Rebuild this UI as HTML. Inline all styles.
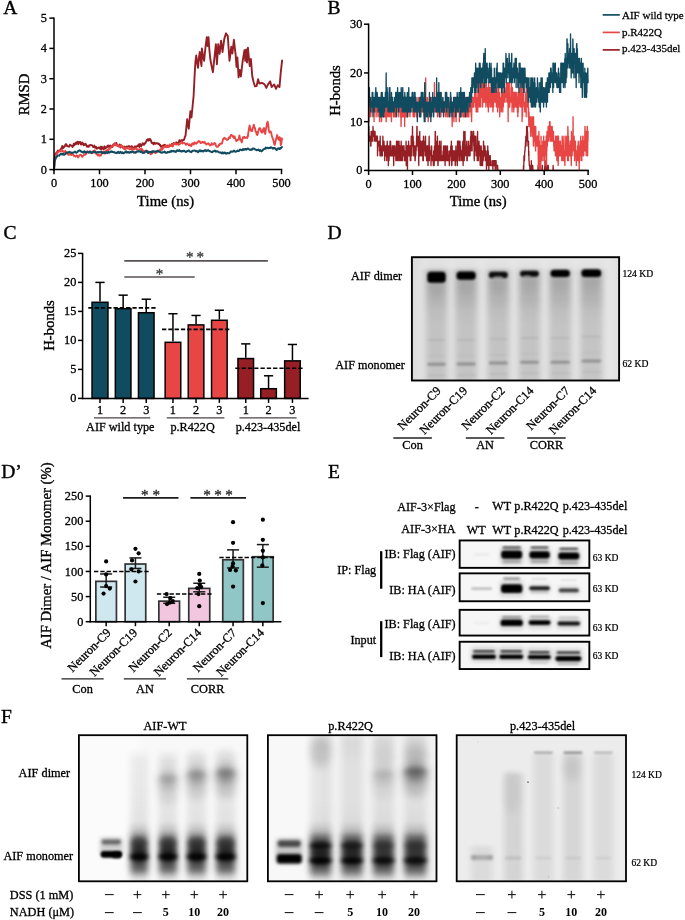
<!DOCTYPE html>
<html><head><meta charset="utf-8"><title>Figure</title>
<style>
html,body{margin:0;padding:0;background:#fff;}
body{width:685px;height:920px;overflow:hidden;font-family:"Liberation Serif",serif;}
svg{display:block;font-family:"Liberation Serif",serif;}
</style></head><body>
<svg width="685" height="920" viewBox="0 0 685 920">
<defs>
<filter id="b05" x="-20%" y="-50%" width="140%" height="200%"><feGaussianBlur stdDeviation="0.5"/></filter>
<filter id="b08" x="-20%" y="-50%" width="140%" height="200%"><feGaussianBlur stdDeviation="0.8"/></filter>
<filter id="b1" x="-30%" y="-80%" width="160%" height="260%"><feGaussianBlur stdDeviation="1.1"/></filter>
<filter id="b15" x="-30%" y="-80%" width="160%" height="260%"><feGaussianBlur stdDeviation="1.5"/></filter>
<filter id="b2" x="-40%" y="-100%" width="180%" height="300%"><feGaussianBlur stdDeviation="2"/></filter>
<filter id="b3" x="-50%" y="-100%" width="200%" height="300%"><feGaussianBlur stdDeviation="3"/></filter>
<filter id="b4" x="-60%" y="-100%" width="220%" height="300%"><feGaussianBlur stdDeviation="4"/></filter>
<filter id="b6" x="-80%" y="-100%" width="260%" height="300%"><feGaussianBlur stdDeviation="6"/></filter>
<filter id="bx2" x="-30%" y="-5%" width="160%" height="110%"><feGaussianBlur stdDeviation="3 1.2"/></filter>
<filter id="bx3" x="-40%" y="-10%" width="180%" height="120%"><feGaussianBlur stdDeviation="3 2"/></filter>
<filter id="bx4" x="-50%" y="-15%" width="200%" height="130%"><feGaussianBlur stdDeviation="4 3"/></filter>
<linearGradient id="dlane" x1="0" y1="0" x2="0" y2="1">
<stop offset="0" stop-color="#000" stop-opacity="0"/>
<stop offset="0.08" stop-color="#000" stop-opacity="0.02"/>
<stop offset="0.12" stop-color="#000" stop-opacity="0.23"/>
<stop offset="0.34" stop-color="#000" stop-opacity="0.22"/>
<stop offset="0.44" stop-color="#000" stop-opacity="0.17"/>
<stop offset="0.55" stop-color="#000" stop-opacity="0.15"/>
<stop offset="1" stop-color="#000" stop-opacity="0.145"/>
</linearGradient>
<linearGradient id="dbg" x1="0" y1="0" x2="1" y2="0">
<stop offset="0" stop-color="#dadada"/>
<stop offset="0.06" stop-color="#e4e4e4"/>
<stop offset="0.94" stop-color="#e6e6e6"/>
<stop offset="1" stop-color="#e0e0e0"/>
</linearGradient>
<clipPath id="clipD"><rect x="411.4" y="256.8" width="208" height="123.6"/></clipPath>
<!--MOREDEFS-->
</defs>

<!-- Panel A -->
<text x="3.2" y="14.2" font-size="19.5" text-anchor="start" fill="#000" stroke="#000" stroke-width="0.37">A</text>
<polyline points="54,169.6 54.6,158 55.4,154 56.5,152.5 57.25,151.89 58,150.5 58.6,150.89 59.2,150.68 59.8,150.78 60.4,149.75 61,148.6 61.61,149.42 62.23,146.04 62.84,146.9 63.46,147.9 64.07,146.43 64.69,146.71 65.3,144.9 65.97,144.09 66.65,145.65 67.33,145.36 68,146.6 68.65,146.64 69.3,146.64 69.95,144.74 70.6,145.29 71.25,145.39 71.9,146 72.52,146.93 73.14,146.05 73.76,143.71 74.38,145.35 75,144 75.66,142.66 76.31,144 76.97,142.25 77.63,141.66 78.29,144.26 78.94,141.96 79.6,142.7 80.28,141.93 80.96,144.52 81.64,144.31 82.32,142.59 83,143.4 83.62,145.18 84.24,144.13 84.86,144.87 85.48,143.66 86.1,144.9 86.74,146.49 87.38,145.86 88.02,146.92 88.67,146.86 89.31,145.13 89.95,145.51 90.59,145.06 91.23,145.17 91.88,145.08 92.52,146.01 93.16,147.15 93.8,147 94.4,145.55 95,147.86 95.6,146.91 96.2,146.96 96.8,148.73 97.4,147.8 98,148 98.64,147.44 99.29,148 99.93,148.74 100.57,146.7 101.21,149.66 101.86,146.64 102.5,148.2 103.14,148.89 103.79,149.08 104.43,146.31 105.07,148.66 105.71,147.2 106.36,147.77 107,147.4 107.61,145.63 108.23,145.55 108.84,145.78 109.46,148.06 110.07,145.43 110.69,147.02 111.3,146 111.93,147.06 112.56,146.79 113.19,144.56 113.81,144.28 114.44,144.51 115.07,145 115.7,143.8 116.36,142.91 117.02,145.31 117.68,145.83 118.34,146.39 119,145.6 119.66,144.4 120.32,147.59 120.98,145.13 121.64,146.21 122.3,147 122.97,147.38 123.64,148.4 124.31,146.57 124.99,148.47 125.66,147.29 126.33,146.57 127,147.2 127.62,146.66 128.24,146.27 128.86,146 129.48,146.28 130.1,148.06 130.72,149.09 131.34,146.47 131.96,146.16 132.58,149.21 133.2,147.7 133.8,147.59 134.4,146.97 135,146.22 135.6,147.15 136.2,147.68 136.8,146.28 137.4,145.96 138,146 138.67,144.39 139.33,146.96 140,143.95 140.67,145.25 141.33,146.17 142,144.9 142.67,143.2 143.33,144.61 144,144.79 144.67,143.25 145.33,143.24 146,141.8 146.72,139.98 147.44,140.47 148.16,139 148.88,140.66 149.6,139 150.26,139.08 150.92,140.33 151.58,142.82 152.24,143.09 152.9,142.7 153.52,144.32 154.14,142.75 154.76,142.96 155.38,143.83 156,143.2 156.7,143.47 157.4,143.21 158.1,143.91 158.8,143.43 159.5,144.9 160.14,144.66 160.79,146.78 161.43,146.84 162.07,145.93 162.71,145.68 163.36,145.33 164,146 164.7,144.69 165.4,145.27 166.1,146.9 166.8,147.18 167.5,145.56 168.2,146 168.8,146.67 169.4,146.38 170,145.87 170.6,145.52 171.2,145.58 171.8,144.06 172.4,144.9 173,144 173.67,143.08 174.33,143.52 175,144.21 175.67,143.74 176.33,142.26 177,142.7 177.6,143.91 178.2,142.74 178.8,142.3 179.4,140.26 180,141.6 180.64,141.43 181.28,140.16 181.92,141.19 182.56,140.2 183.2,140 183.9,140.01 184.6,138 185.6,135.1 186.4,127 187.2,119.1 188,125 188.8,128.7 189.6,119 190.4,111.1 191.5,117.5 192.6,106 193.6,96 194.6,76 195.4,62 196.3,55.5 197.2,63 198,67.8 198.9,58 199.8,52 200.6,60 201.5,66 201.9,48.5 203,56 204.1,60.8 205.4,48 206.8,37.1 207.6,46 208.5,37.1 209.4,50 210.3,59 211.6,66 212.9,72.2 214.4,58 215.9,44.1 216.9,64.3 218.2,44.1 219.6,53.8 221.1,40.6 222.5,52 224.3,38.9 226,33.3 227.8,36.3 228.6,48 229.5,60.8 231.3,46.8 232.4,53.5 233.9,39.8 235.7,55.5 236.5,66.9 237.4,57.5 238.6,77.4 239.8,70 240.9,76.5 242.7,60.8 244.4,50.3 245.3,60.8 246.2,49.4 247,62.5 247.9,47.7 249.7,66 250.9,59 252.3,76.5 253.6,82 254.9,86.2 256.6,86 258.1,79.2 259.3,83.5 261.9,82.8 264.6,84.4 266.3,87.9 268.1,84.4 270.2,81.4 271.6,87 274.2,84.4 276,88.8 277.7,85.3 279.5,87 280.7,73 282.1,60.4" fill="none" stroke="#961f25" stroke-width="1.9" stroke-linejoin="round" stroke-linecap="round"/>
<polyline points="54,169.6 54.6,161.85 55.2,159.62 55.8,155.37 56.4,154.26 57,153.31 57.6,153.21 58.2,151.92 58.8,151.32 59.4,151.6 60,151 60.6,151.34 61.2,150.23 61.8,149.79 62.4,151.24 63,151.09 63.6,151.46 64.2,152.38 64.8,151.87 65.4,150.85 66,152.46 66.6,152.81 67.2,153.29 67.8,153.58 68.4,154.84 69,153.89 69.6,154.66 70.2,154.08 70.8,154.48 71.4,155.06 72,154.51 72.6,153.71 73.2,154.52 73.8,155.73 74.4,156.1 75,156.01 75.6,156.63 76.2,155.78 76.8,155.46 77.4,155.84 78,157.52 78.6,156.68 79.2,155.77 79.8,155.18 80.4,154.63 81,154.93 81.6,155.82 82.2,156.87 82.8,155.94 83.4,155.49 84,154.88 84.6,154.16 85.2,154.83 85.8,154.23 86.4,152.82 87,151.4 87.6,152.3 88.2,152.23 88.8,152.74 89.4,151.39 90,151.57 90.6,152.71 91.2,152.36 91.8,153.18 92.4,151.41 93,152.78 93.6,150.9 94.2,151.15 94.8,150.37 95.4,152.32 96,153.09 96.6,154.42 97.2,154.73 97.8,155.39 98.4,154.69 99,155.71 99.6,155.66 100.2,154.63 100.8,155.62 101.4,154.19 102,152.81 102.6,151.63 103.2,151.97 103.8,151.23 104.4,152.85 105,153.64 105.6,151.88 106.2,150.6 106.8,151.05 107.4,149.79 108,149.83 108.6,150.28 109.2,148.61 109.8,147.91 110.4,148.58 111,147.31 111.6,146 112.2,146.52 112.8,146.21 113.4,145.92 114,144.83 114.6,143.16 115.2,144.07 115.8,145.21 116.4,145.55 117,144.89 117.6,145.02 118.2,145.36 118.8,146.32 119.4,146.15 120,146 120.6,146.65 121.2,145.1 121.8,146.21 122.4,146.16 123,147 123.6,148.42 124.2,147.72 124.8,149.38 125.4,147.7 126,148.26 126.6,148.52 127.2,147.83 127.8,148.43 128.4,148.52 129,148.54 129.6,149.34 130.2,147.78 130.8,148.08 131.4,149.42 132,148.32 132.6,149.84 133.2,148.78 133.8,149.55 134.4,148.51 135,148.76 135.6,148.81 136.2,147.89 136.8,149.15 137.4,149.17 138,149.76 138.6,149.64 139.2,149.63 139.8,149.54 140.4,148.85 141,150.19 141.6,148.59 142.2,150.08 142.8,151.01 143.4,150.57 144,151.26 144.6,151.45 145.2,151.48 145.8,150.74 146.4,150.63 147,150.84 147.6,150.97 148.2,153.05 148.8,152.52 149.4,152.55 150,152.82 150.6,154.24 151.2,153.81 151.8,153.73 152.4,152.8 153,152.36 153.6,151.56 154.2,151.48 154.8,151.52 155.4,153.15 156,152.93 156.6,151.68 157.2,152 157.8,150.75 158.4,151.04 159,150.55 159.6,151.18 160.2,149.58 160.8,150.25 161.4,148.67 162,149.72 162.6,149.05 163.2,146.83 163.8,147.64 164.4,146.63 165,146.36 165.6,145.57 166.2,147.07 166.8,145.68 167.4,146.76 168,146.29 168.6,146.69 169.2,145.7 169.8,144.5 170.4,146.14 171,146.13 171.6,144.66 172.2,146.08 172.8,146.53 173.4,144.66 174,143.21 174.6,144.06 175.2,143.1 175.8,144.22 176.4,143.96 177,144.44 177.6,144.22 178.2,144.61 178.8,144.87 179.4,144.32 180,143.95 180.6,143.14 181.2,142.22 181.8,141.67 182.4,143.56 183,142.71 183.6,142.92 184.2,142.75 184.8,143.53 185.4,143.71 186,144.74 186.6,144.09 187.2,143.58 187.8,144.16 188.4,144.74 189,145.56 189.6,144.28 190.2,145.12 190.8,145.76 191.4,146.03 192,143.73 192.6,143.23 193.2,144.04 193.8,144.55 194.4,142.54 195,142.48 195.6,143.32 196.2,143.79 196.8,143.35 197.4,142.17 198,142.08 198.6,141.01 199.2,141.15 199.8,141.6 200.4,142.98 201,143.03 201.6,142.6 202.2,141.93 202.8,141.82 203.4,142.78 204,142.66 204.6,141.86 205.2,143.3 205.8,143.36 206.4,144.51 207,143.9 207.6,143.87 208.2,143.33 208.8,143.59 209.4,144.72 210,145.57 210.6,145.18 211.2,144.43 211.8,143.12 212.4,144.73 213,144.37 213.6,144.26 214.2,143.38 214.8,142.97 215.4,143.85 216,146.02 216.6,146.54 217.2,146.8 217.8,146.9 218.4,145.94 219,144.71 219.6,145 220.2,143.4 220.8,143.83 221.4,143.6 222,143.32 222.6,140.91 223.2,138.72 223.8,138.26 224.4,137.74 225,138.86 225.6,138.5 226.2,139.19 226.8,139.89 227.4,139.85 228,139.61 228.6,138.05 229.2,137.17 229.8,138.11 230.4,136.22 231,134.93 231.6,134.86 232.2,135.55 232.8,136.76 233.4,136.17 234,137.93 234.6,136.37 235.2,138.47 235.8,139.37 236.4,141.21 237,140.49 237.6,139.98 238.2,139.84 238.8,138.39 239.4,135.51 240,138.33 240.6,140.58 241.2,140 241.8,142.42 242.4,139.43 243,137.24 243.6,137.45 244.2,136.64 244.8,137.98 245.4,137.92 246,137.74 246.6,137.17 247.2,137.91 247.8,136.74 248.4,132.46 249,128.97 249.6,125.34 250.2,128.08 250.8,130.47 251.4,130.84 252,131.27 252.6,128.7 253.2,126.82 253.8,124.75 254.4,127.24 255,128.11 255.6,131.7 256.2,131.59 256.8,134.62 257.4,134.9 258,132.44 258.6,130.12 259.2,128.5 259.8,128.13 260.4,128.46 261,131.36 261.6,132.47 262.2,132.53 262.8,130.21 263.4,129.01 264,128.01 264.6,132.88 265.2,133.88 265.8,129.89 266.4,126.95 267,123.42 267.6,121.71 268.2,124.54 268.8,129.72 269.4,132.59 270,131.59 270.6,131.39 271.2,132.83 271.8,135.7 272.4,137.57 273,139.04 273.6,141.06 274.2,143.97 274.8,144.88 275.4,142 276,139.37 276.6,137.64 277.2,135.06 277.8,137.97 278.4,139.18 279,140 279.6,137.17 280.2,138.43 280.8,145.04 281.4,142.84 282,138.32" fill="none" stroke="#e84545" stroke-width="1.9" stroke-linejoin="round" stroke-linecap="round"/>
<polyline points="54,169.6 54.6,161.06 55.2,159.71 55.8,157.96 56.4,157.14 57,156.52 57.6,155.61 58.2,155.52 58.8,155.52 59.4,155.63 60,154.41 60.6,154.15 61.2,153.6 61.8,154.41 62.4,154.55 63,153.51 63.6,154.42 64.2,154.78 64.8,154.39 65.4,154.1 66,153.19 66.6,152.46 67.2,152.88 67.8,152.29 68.4,152.16 69,152.14 69.6,151.75 70.2,152.2 70.8,152.35 71.4,153.02 72,152.8 72.6,152.78 73.2,152.47 73.8,152.5 74.4,152.11 75,151.56 75.6,152.36 76.2,152.68 76.8,152.52 77.4,152.15 78,151.27 78.6,150.66 79.2,150.6 79.8,150.28 80.4,151.28 81,151.25 81.6,151.99 82.2,151.67 82.8,152.42 83.4,152.65 84,151.43 84.6,151.19 85.2,152.21 85.8,152.04 86.4,152.8 87,152.27 87.6,151.51 88.2,152.04 88.8,152.58 89.4,152.05 90,151.52 90.6,151.68 91.2,152.79 91.8,153.04 92.4,152.17 93,151.96 93.6,151.65 94.2,151.44 94.8,152.48 95.4,152.01 96,152.39 96.6,152.39 97.2,151.98 97.8,152.63 98.4,151.99 99,152.49 99.6,151.89 100.2,152.08 100.8,151.83 101.4,151.8 102,152.9 102.6,153.18 103.2,152.51 103.8,153.11 104.4,152.32 105,152.22 105.6,152.9 106.2,152.9 106.8,152.03 107.4,153.01 108,152.25 108.6,151.95 109.2,152.61 109.8,152.23 110.4,151.99 111,151.51 111.6,151.29 112.2,151.97 112.8,151.77 113.4,152.24 114,152.1 114.6,152.16 115.2,153 115.8,152.66 116.4,152.63 117,153.08 117.6,152.21 118.2,151.73 118.8,152.7 119.4,153.03 120,152.29 120.6,151.82 121.2,152.46 121.8,153.11 122.4,152.23 123,153 123.6,153.28 124.2,152.97 124.8,152.52 125.4,151.79 126,151.31 126.6,152.55 127.2,152.01 127.8,152.49 128.4,152.01 129,152.67 129.6,152.64 130.2,152.14 130.8,151.69 131.4,152.33 132,151.61 132.6,151.49 133.2,151.96 133.8,152.66 134.4,152.63 135,152.07 135.6,152.81 136.2,152.03 136.8,151.34 137.4,151.39 138,151.69 138.6,151.22 139.2,151.17 139.8,151.45 140.4,151.91 141,151.43 141.6,151.55 142.2,152.46 142.8,153.05 143.4,152.82 144,152.76 144.6,152.55 145.2,151.73 145.8,151.15 146.4,150.83 147,152.09 147.6,152.38 148.2,152.94 148.8,151.71 149.4,152.07 150,152 150.6,152.24 151.2,151.63 151.8,152.34 152.4,151.15 153,151.25 153.6,151.53 154.2,151.87 154.8,151.7 155.4,151.5 156,151.48 156.6,151.59 157.2,150.68 157.8,150.69 158.4,151.26 159,151.73 159.6,151.38 160.2,151.96 160.8,152.51 161.4,152.47 162,152.69 162.6,152.21 163.2,152.27 163.8,152.32 164.4,151.48 165,151.93 165.6,152.7 166.2,152.89 166.8,152.71 167.4,152.06 168,152.27 168.6,152.1 169.2,151.78 169.8,152.23 170.4,151.22 171,151.76 171.6,150.86 172.2,151.3 172.8,151.31 173.4,150.89 174,151.41 174.6,151.32 175.2,151.45 175.8,151.98 176.4,151.16 177,150.33 177.6,150.36 178.2,150.96 178.8,150.48 179.4,150.16 180,151.16 180.6,151.3 181.2,151.02 181.8,151.61 182.4,151.01 183,151.25 183.6,150.63 184.2,150.7 184.8,151.34 185.4,151.84 186,152.04 186.6,151.35 187.2,151.33 187.8,150.9 188.4,150.4 189,150.74 189.6,151.45 190.2,151.84 190.8,151.81 191.4,152.19 192,151.31 192.6,150.7 193.2,150.85 193.8,150.65 194.4,150.46 195,150.69 195.6,151.15 196.2,151.17 196.8,150.89 197.4,151.59 198,152.16 198.6,151.61 199.2,150.72 199.8,150.21 200.4,151.3 201,150.52 201.6,151.19 202.2,151.31 202.8,150.95 203.4,151.54 204,150.6 204.6,150.32 205.2,150.69 205.8,150.18 206.4,151.22 207,150.79 207.6,150.42 208.2,150.09 208.8,150.85 209.4,150.94 210,151.28 210.6,151.49 211.2,151.84 211.8,152.25 212.4,152.06 213,151.25 213.6,151.32 214.2,150.92 214.8,150.5 215.4,151.06 216,151.77 216.6,151.3 217.2,151.26 217.8,151.4 218.4,152.07 219,152.16 219.6,152.39 220.2,152.78 220.8,152.43 221.4,152.93 222,153.4 222.6,152.37 223.2,153.24 223.8,153.38 224.4,152.54 225,152.68 225.6,153.07 226.2,153.75 226.8,153.19 227.4,153.01 228,153.32 228.6,153.24 229.2,153.33 229.8,152.5 230.4,152.29 231,151.36 231.6,151.62 232.2,151.81 232.8,151.51 233.4,151.47 234,150.63 234.6,151.28 235.2,151.7 235.8,151.86 236.4,151.21 237,151.25 237.6,150.49 238.2,151.01 238.8,151.15 239.4,150.38 240,149.53 240.6,149.64 241.2,149.84 241.8,150.25 242.4,149.98 243,149.07 243.6,149.83 244.2,148.98 244.8,149.71 245.4,149.04 246,148.94 246.6,149.58 247.2,148.84 247.8,148.45 248.4,148.81 249,149.3 249.6,149.7 250.2,149.63 250.8,149.97 251.4,149.39 252,149.8 252.6,148.67 253.2,148.42 253.8,148.83 254.4,148.7 255,149.39 255.6,149.64 256.2,149.63 256.8,150.19 257.4,150.07 258,149.66 258.6,149.61 259.2,150.38 259.8,150.91 260.4,150.11 261,150.79 261.6,151.37 262.2,150.78 262.8,150.29 263.4,149.27 264,149.13 264.6,148.84 265.2,148.69 265.8,147.53 266.4,148.28 267,147.93 267.6,147.66 268.2,148.16 268.8,148.03 269.4,147.85 270,148.08 270.6,147.2 271.2,147.51 271.8,147.47 272.4,148.31 273,148.68 273.6,148.07 274.2,148.25 274.8,147.94 275.4,148.42 276,149.41 276.6,150.04 277.2,149.44 277.8,148.81 278.4,148.21 279,148.51 279.6,149.07 280.2,148 280.8,148.42 281.4,147.34 282,146.99" fill="none" stroke="#114b5f" stroke-width="2" stroke-linejoin="round" stroke-linecap="round"/>
<line x1="54" y1="17.4" x2="54" y2="170.35" stroke="#000" stroke-width="1.5"/>
<line x1="53.25" y1="169.6" x2="282.3" y2="169.6" stroke="#000" stroke-width="1.5"/>
<line x1="49.4" y1="169.6" x2="54" y2="169.6" stroke="#000" stroke-width="1.5"/>
<text x="47" y="173.66" font-size="12.3" text-anchor="end" fill="#000" stroke="#000" stroke-width="0.3">0</text>
<line x1="49.4" y1="139.3" x2="54" y2="139.3" stroke="#000" stroke-width="1.5"/>
<text x="47" y="143.36" font-size="12.3" text-anchor="end" fill="#000" stroke="#000" stroke-width="0.3">1</text>
<line x1="49.4" y1="109" x2="54" y2="109" stroke="#000" stroke-width="1.5"/>
<text x="47" y="113.06" font-size="12.3" text-anchor="end" fill="#000" stroke="#000" stroke-width="0.3">2</text>
<line x1="49.4" y1="78.7" x2="54" y2="78.7" stroke="#000" stroke-width="1.5"/>
<text x="47" y="82.76" font-size="12.3" text-anchor="end" fill="#000" stroke="#000" stroke-width="0.3">3</text>
<line x1="49.4" y1="48.4" x2="54" y2="48.4" stroke="#000" stroke-width="1.5"/>
<text x="47" y="52.46" font-size="12.3" text-anchor="end" fill="#000" stroke="#000" stroke-width="0.3">4</text>
<line x1="49.4" y1="18.1" x2="54" y2="18.1" stroke="#000" stroke-width="1.5"/>
<text x="47" y="22.16" font-size="12.3" text-anchor="end" fill="#000" stroke="#000" stroke-width="0.3">5</text>
<line x1="54" y1="169.6" x2="54" y2="174.2" stroke="#000" stroke-width="1.5"/>
<text x="54" y="187.26" font-size="12.3" text-anchor="middle" fill="#000" stroke="#000" stroke-width="0.3">0</text>
<line x1="99.5" y1="169.6" x2="99.5" y2="174.2" stroke="#000" stroke-width="1.5"/>
<text x="99.5" y="187.26" font-size="12.3" text-anchor="middle" fill="#000" stroke="#000" stroke-width="0.3">100</text>
<line x1="145" y1="169.6" x2="145" y2="174.2" stroke="#000" stroke-width="1.5"/>
<text x="145" y="187.26" font-size="12.3" text-anchor="middle" fill="#000" stroke="#000" stroke-width="0.3">200</text>
<line x1="190.5" y1="169.6" x2="190.5" y2="174.2" stroke="#000" stroke-width="1.5"/>
<text x="190.5" y="187.26" font-size="12.3" text-anchor="middle" fill="#000" stroke="#000" stroke-width="0.3">300</text>
<line x1="236" y1="169.6" x2="236" y2="174.2" stroke="#000" stroke-width="1.5"/>
<text x="236" y="187.26" font-size="12.3" text-anchor="middle" fill="#000" stroke="#000" stroke-width="0.3">400</text>
<line x1="281.5" y1="169.6" x2="281.5" y2="174.2" stroke="#000" stroke-width="1.5"/>
<text x="281.5" y="187.26" font-size="12.3" text-anchor="middle" fill="#000" stroke="#000" stroke-width="0.3">500</text>
<text x="165.6" y="206.45" font-size="14.7" text-anchor="middle" fill="#000" stroke="#000" stroke-width="0.35">Time (ns)</text>
<text x="29" y="94.5" font-size="14.7" text-anchor="middle" transform="rotate(-90 29 94.5)" fill="#000" stroke="#000" stroke-width="0.35">RMSD</text>
<!-- Panel B -->
<text x="327.5" y="14.4" font-size="19.5" text-anchor="start" fill="#000" stroke="#000" stroke-width="0.37">B</text>
<polyline points="368.6,136.29 368.76,126.54 368.91,136.29 369.07,136.29 369.23,136.29 369.38,141.16 369.54,141.16 369.7,141.16 369.85,136.29 370.01,141.16 370.17,141.16 370.32,141.16 370.48,136.29 370.64,146.03 370.8,146.03 370.95,146.03 371.11,131.42 371.27,141.16 371.42,136.29 371.58,141.16 371.74,141.16 371.89,131.42 372.05,131.42 372.21,141.16 372.36,131.42 372.52,141.16 372.68,136.29 372.83,141.16 372.99,126.54 373.15,131.42 373.3,136.29 373.46,131.42 373.62,131.42 373.77,136.29 373.93,131.42 374.09,136.29 374.24,136.29 374.4,136.29 374.56,131.42 374.71,141.16 374.87,131.42 375.03,131.42 375.19,136.29 375.34,136.29 375.5,136.29 375.66,136.29 375.81,141.16 375.97,141.16 376.13,136.29 376.28,141.16 376.44,141.16 376.6,136.29 376.75,141.16 376.91,136.29 377.07,136.29 377.22,141.16 377.38,136.29 377.54,155.78 377.69,146.03 377.85,146.03 378.01,146.03 378.16,141.16 378.32,146.03 378.48,146.03 378.63,146.03 378.79,146.03 378.95,146.03 379.1,146.03 379.26,141.16 379.42,150.91 379.58,146.03 379.73,150.91 379.89,146.03 380.05,155.78 380.2,136.29 380.36,155.78 380.52,146.03 380.67,155.78 380.83,150.91 380.99,150.91 381.14,150.91 381.3,146.03 381.46,150.91 381.61,155.78 381.77,150.91 381.93,155.78 382.08,150.91 382.24,150.91 382.4,155.78 382.55,146.03 382.71,150.91 382.87,136.29 383.02,146.03 383.18,150.91 383.34,146.03 383.49,146.03 383.65,146.03 383.81,146.03 383.97,141.16 384.12,146.03 384.28,150.91 384.44,150.91 384.59,146.03 384.75,160.65 384.91,146.03 385.06,150.91 385.22,155.78 385.38,150.91 385.53,150.91 385.69,155.78 385.85,155.78 386,146.03 386.16,150.91 386.32,146.03 386.47,150.91 386.63,150.91 386.79,160.65 386.94,155.78 387.1,146.03 387.26,141.16 387.41,146.03 387.57,155.78 387.73,150.91 387.88,155.78 388.04,150.91 388.2,146.03 388.36,165.53 388.51,155.78 388.67,160.65 388.83,150.91 388.98,160.65 389.14,155.78 389.3,146.03 389.45,150.91 389.61,155.78 389.77,146.03 389.92,155.78 390.08,141.16 390.24,150.91 390.39,150.91 390.55,141.16 390.71,146.03 390.86,155.78 391.02,155.78 391.18,150.91 391.33,150.91 391.49,150.91 391.65,155.78 391.8,150.91 391.96,150.91 392.12,150.91 392.27,146.03 392.43,155.78 392.59,150.91 392.75,146.03 392.9,150.91 393.06,155.78 393.22,146.03 393.37,155.78 393.53,155.78 393.69,165.53 393.84,150.91 394,146.03 394.16,150.91 394.31,146.03 394.47,155.78 394.63,155.78 394.78,155.78 394.94,146.03 395.1,155.78 395.25,155.78 395.41,150.91 395.57,150.91 395.72,150.91 395.88,160.65 396.04,150.91 396.19,155.78 396.35,150.91 396.51,141.16 396.66,150.91 396.82,150.91 396.98,155.78 397.14,155.78 397.29,160.65 397.45,150.91 397.61,141.16 397.76,155.78 397.92,155.78 398.08,150.91 398.23,160.65 398.39,150.91 398.55,150.91 398.7,150.91 398.86,141.16 399.02,141.16 399.17,155.78 399.33,150.91 399.49,146.03 399.64,160.65 399.8,146.03 399.96,155.78 400.11,146.03 400.27,160.65 400.43,150.91 400.58,160.65 400.74,146.03 400.9,146.03 401.05,150.91 401.21,141.16 401.37,160.65 401.53,146.03 401.68,155.78 401.84,150.91 402,150.91 402.15,155.78 402.31,160.65 402.47,146.03 402.62,150.91 402.78,150.91 402.94,150.91 403.09,155.78 403.25,146.03 403.41,150.91 403.56,146.03 403.72,150.91 403.88,150.91 404.03,146.03 404.19,155.78 404.35,160.65 404.5,150.91 404.66,150.91 404.82,150.91 404.97,155.78 405.13,160.65 405.29,155.78 405.44,155.78 405.6,155.78 405.76,150.91 405.92,155.78 406.07,141.16 406.23,165.53 406.39,155.78 406.54,165.53 406.7,155.78 406.86,155.78 407.01,146.03 407.17,150.91 407.33,146.03 407.48,170.4 407.64,146.03 407.8,146.03 407.95,155.78 408.11,155.78 408.27,146.03 408.42,155.78 408.58,141.16 408.74,146.03 408.89,155.78 409.05,155.78 409.21,146.03 409.36,150.91 409.52,155.78 409.68,155.78 409.83,146.03 409.99,146.03 410.15,155.78 410.31,160.65 410.46,146.03 410.62,146.03 410.78,160.65 410.93,146.03 411.09,155.78 411.25,136.29 411.4,150.91 411.56,150.91 411.72,155.78 411.87,155.78 412.03,146.03 412.19,141.16 412.34,146.03 412.5,126.54 412.66,141.16 412.81,141.16 412.97,136.29 413.13,136.29 413.28,146.03 413.44,141.16 413.6,141.16 413.75,155.78 413.91,150.91 414.07,146.03 414.22,150.91 414.38,155.78 414.54,146.03 414.7,155.78 414.85,155.78 415.01,160.65 415.17,160.65 415.32,155.78 415.48,146.03 415.64,155.78 415.79,155.78 415.95,150.91 416.11,150.91 416.26,146.03 416.42,146.03 416.58,136.29 416.73,141.16 416.89,126.54 417.05,126.54 417.2,146.03 417.36,136.29 417.52,146.03 417.67,146.03 417.83,141.16 417.99,146.03 418.14,146.03 418.3,150.91 418.46,136.29 418.61,155.78 418.77,165.53 418.93,146.03 419.09,155.78 419.24,146.03 419.4,146.03 419.56,155.78 419.71,131.42 419.87,150.91 420.03,150.91 420.18,146.03 420.34,150.91 420.5,141.16 420.65,155.78 420.81,141.16 420.97,141.16 421.12,155.78 421.28,146.03 421.44,146.03 421.59,155.78 421.75,146.03 421.91,150.91 422.06,155.78 422.22,150.91 422.38,141.16 422.53,146.03 422.69,141.16 422.85,160.65 423,155.78 423.16,150.91 423.32,160.65 423.48,136.29 423.63,150.91 423.79,146.03 423.95,146.03 424.1,150.91 424.26,150.91 424.42,150.91 424.57,150.91 424.73,150.91 424.89,141.16 425.04,155.78 425.2,141.16 425.36,136.29 425.51,136.29 425.67,146.03 425.83,155.78 425.98,146.03 426.14,150.91 426.3,146.03 426.45,150.91 426.61,160.65 426.77,155.78 426.92,146.03 427.08,146.03 427.24,155.78 427.39,146.03 427.55,160.65 427.71,150.91 427.87,146.03 428.02,165.53 428.18,155.78 428.34,146.03 428.49,160.65 428.65,146.03 428.81,150.91 428.96,146.03 429.12,136.29 429.28,160.65 429.43,150.91 429.59,150.91 429.75,146.03 429.9,150.91 430.06,150.91 430.22,150.91 430.37,150.91 430.53,150.91 430.69,155.78 430.84,150.91 431,165.53 431.16,150.91 431.31,155.78 431.47,155.78 431.63,146.03 431.78,155.78 431.94,155.78 432.1,160.65 432.25,155.78 432.41,160.65 432.57,155.78 432.73,155.78 432.88,160.65 433.04,160.65 433.2,155.78 433.35,165.53 433.51,155.78 433.67,150.91 433.82,155.78 433.98,150.91 434.14,165.53 434.29,160.65 434.45,146.03 434.61,150.91 434.76,150.91 434.92,160.65 435.08,146.03 435.23,131.42 435.39,131.42 435.55,146.03 435.7,155.78 435.86,160.65 436.02,155.78 436.17,155.78 436.33,146.03 436.49,160.65 436.65,155.78 436.8,141.16 436.96,150.91 437.12,160.65 437.27,150.91 437.43,136.29 437.59,155.78 437.74,146.03 437.9,165.53 438.06,165.53 438.21,150.91 438.37,150.91 438.53,146.03 438.68,155.78 438.84,155.78 439,160.65 439.15,146.03 439.31,150.91 439.47,141.16 439.62,155.78 439.78,160.65 439.94,150.91 440.09,146.03 440.25,155.78 440.41,150.91 440.56,150.91 440.72,160.65 440.88,150.91 441.04,141.16 441.19,155.78 441.35,160.65 441.51,155.78 441.66,160.65 441.82,155.78 441.98,160.65 442.13,155.78 442.29,160.65 442.45,160.65 442.6,155.78 442.76,155.78 442.92,155.78 443.07,150.91 443.23,150.91 443.39,160.65 443.54,146.03 443.7,150.91 443.86,150.91 444.01,155.78 444.17,155.78 444.33,160.65 444.48,150.91 444.64,155.78 444.8,146.03 444.95,150.91 445.11,165.53 445.27,150.91 445.43,146.03 445.58,150.91 445.74,155.78 445.9,155.78 446.05,146.03 446.21,160.65 446.37,150.91 446.52,150.91 446.68,155.78 446.84,150.91 446.99,160.65 447.15,150.91 447.31,150.91 447.46,146.03 447.62,155.78 447.78,155.78 447.93,160.65 448.09,150.91 448.25,160.65 448.4,160.65 448.56,160.65 448.72,160.65 448.87,155.78 449.03,155.78 449.19,155.78 449.34,165.53 449.5,160.65 449.66,150.91 449.82,160.65 449.97,155.78 450.13,155.78 450.29,150.91 450.44,150.91 450.6,155.78 450.76,146.03 450.91,150.91 451.07,150.91 451.23,150.91 451.38,141.16 451.54,160.65 451.7,165.53 451.85,165.53 452.01,160.65 452.17,146.03 452.32,160.65 452.48,160.65 452.64,160.65 452.79,150.91 452.95,150.91 453.11,150.91 453.26,160.65 453.42,160.65 453.58,150.91 453.73,155.78 453.89,155.78 454.05,160.65 454.21,155.78 454.36,150.91 454.52,160.65 454.68,155.78 454.83,150.91 454.99,160.65 455.15,160.65 455.3,165.53 455.46,165.53 455.62,150.91 455.77,155.78 455.93,146.03 456.09,160.65 456.24,160.65 456.4,160.65 456.56,155.78 456.71,150.91 456.87,150.91 457.03,155.78 457.18,160.65 457.34,165.53 457.5,141.16 457.65,150.91 457.81,150.91 457.97,141.16 458.12,150.91 458.28,150.91 458.44,155.78 458.6,141.16 458.75,141.16 458.91,160.65 459.07,146.03 459.22,141.16 459.38,146.03 459.54,150.91 459.69,160.65 459.85,155.78 460.01,141.16 460.16,160.65 460.32,146.03 460.48,155.78 460.63,146.03 460.79,150.91 460.95,150.91 461.1,150.91 461.26,155.78 461.42,150.91 461.57,150.91 461.73,160.65 461.89,150.91 462.04,155.78 462.2,155.78 462.36,150.91 462.51,155.78 462.67,146.03 462.83,141.16 462.99,155.78 463.14,165.53 463.3,146.03 463.46,146.03 463.61,150.91 463.77,131.42 463.93,150.91 464.08,146.03 464.24,160.65 464.4,150.91 464.55,146.03 464.71,155.78 464.87,146.03 465.02,131.42 465.18,146.03 465.34,155.78 465.49,155.78 465.65,146.03 465.81,150.91 465.96,150.91 466.12,146.03 466.28,150.91 466.43,146.03 466.59,146.03 466.75,141.16 466.9,160.65 467.06,155.78 467.22,160.65 467.38,150.91 467.53,155.78 467.69,150.91 467.85,150.91 468,150.91 468.16,146.03 468.32,146.03 468.47,141.16 468.63,155.78 468.79,150.91 468.94,146.03 469.1,150.91 469.26,146.03 469.41,155.78 469.57,150.91 469.73,146.03 469.88,146.03 470.04,155.78 470.2,146.03 470.35,141.16 470.51,141.16 470.67,136.29 470.82,150.91 470.98,131.42 471.14,136.29 471.29,131.42 471.45,131.42 471.61,136.29 471.77,146.03 471.92,141.16 472.08,150.91 472.24,141.16 472.39,136.29 472.55,136.29 472.71,136.29 472.86,141.16 473.02,131.42 473.18,131.42 473.33,141.16 473.49,141.16 473.65,131.42 473.8,146.03 473.96,141.16 474.12,155.78 474.27,160.65 474.43,141.16 474.59,136.29 474.74,136.29 474.9,136.29 475.06,141.16 475.21,146.03 475.37,146.03 475.53,150.91 475.68,146.03 475.84,136.29 476,155.78 476.16,146.03 476.31,146.03 476.47,150.91 476.63,146.03 476.78,146.03 476.94,155.78 477.1,146.03 477.25,160.65 477.41,141.16 477.57,131.42 477.72,150.91 477.88,150.91 478.04,146.03 478.19,150.91 478.35,160.65 478.51,146.03 478.66,150.91 478.82,146.03 478.98,141.16 479.13,146.03 479.29,155.78 479.45,146.03 479.6,150.91 479.76,155.78 479.92,146.03 480.07,160.65 480.23,165.53 480.39,155.78 480.55,165.53 480.7,155.78 480.86,150.91 481.02,160.65 481.17,146.03 481.33,150.91 481.49,155.78 481.64,160.65 481.8,165.53 481.96,155.78 482.11,150.91 482.27,155.78 482.43,160.65 482.58,165.53 482.74,155.78 482.9,155.78 483.05,160.65 483.21,160.65 483.37,155.78 483.52,141.16 483.68,146.03 483.84,150.91 483.99,146.03 484.15,150.91 484.31,155.78 484.46,155.78 484.62,155.78 484.78,150.91 484.94,146.03 485.09,150.91 485.25,160.65 485.41,155.78 485.56,155.78 485.72,160.65 485.88,150.91 486.03,150.91 486.19,150.91 486.35,160.65 486.5,170.4 486.66,160.65 486.82,155.78 486.97,155.78 487.13,165.53 487.29,155.78 487.44,165.53 487.6,155.78 487.76,146.03 487.91,155.78 488.07,155.78 488.23,150.91 488.38,155.78 488.54,155.78 488.7,160.65 488.85,170.4 489.01,160.65 489.17,165.53 489.33,160.65 489.48,160.65 489.64,160.65 489.8,155.78 489.95,160.65 490.11,155.78 490.27,155.78 490.42,165.53 490.58,165.53 490.74,165.53 490.89,165.53 491.05,165.53 491.21,165.53 491.36,165.53 491.52,165.53 491.68,165.53 491.83,165.53 491.99,160.65 492.15,160.65 492.3,160.65 492.46,165.53 492.62,165.53 492.77,165.53 492.93,170.4 493.09,160.65 493.24,165.53 493.4,165.53 493.56,165.53 493.72,160.65 493.87,165.53 494.03,160.65 494.19,160.65 494.34,165.53 494.5,165.53 494.66,160.65 494.81,165.53 494.97,160.65 495.13,165.53 495.28,170.4 495.44,160.65 495.6,165.53 495.75,160.65 495.91,170.4 496.07,160.65 496.22,165.53 496.38,165.53 496.54,165.53 496.69,165.53 496.85,165.53 497.01,165.53 497.16,165.53 497.32,165.53 497.48,170.4 497.63,165.53 497.79,170.4 497.95,170.4 498.11,170.4 498.26,170.4 498.42,170.4 498.58,170.4 498.73,170.4 498.89,170.4 499.05,170.4 499.2,170.4 499.36,170.4 499.52,170.4 499.67,170.4 499.83,170.4 499.99,170.4 500.14,170.4 500.3,170.4 500.46,170.4 500.61,170.4 500.77,170.4 500.93,170.4 501.08,170.4 501.24,170.4 501.4,170.4 501.55,170.4 501.71,170.4 501.87,170.4 502.02,170.4 502.18,170.4 502.34,170.4 502.5,170.4 502.65,170.4 502.81,170.4 502.97,170.4 503.12,170.4 503.28,170.4 503.44,170.4 503.59,170.4 503.75,170.4 503.91,170.4 504.06,170.4 504.22,170.4 504.38,170.4 504.53,170.4 504.69,170.4 504.85,170.4 505,170.4 505.16,170.4 505.32,170.4 505.47,170.4 505.63,170.4 505.79,170.4 505.94,170.4 506.1,170.4 506.26,170.4 506.41,170.4 506.57,170.4 506.73,170.4 506.88,170.4 507.04,170.4 507.2,170.4 507.36,170.4 507.51,170.4 507.67,170.4 507.83,170.4 507.98,170.4 508.14,170.4 508.3,170.4 508.45,170.4 508.61,170.4 508.77,170.4 508.92,170.4 509.08,170.4 509.24,170.4 509.39,170.4 509.55,170.4 509.71,170.4 509.86,170.4 510.02,170.4 510.18,170.4 510.33,170.4 510.49,170.4 510.65,170.4 510.8,170.4 510.96,170.4 511.12,170.4 511.28,170.4 511.43,170.4 511.59,170.4 511.75,170.4 511.9,170.4 512.06,170.4 512.22,170.4 512.37,170.4 512.53,170.4 512.69,170.4 512.84,170.4 513,170.4 513.16,170.4 513.31,170.4 513.47,170.4 513.63,170.4 513.78,170.4 513.94,170.4 514.1,170.4 514.25,170.4 514.41,170.4 514.57,170.4 514.72,170.4 514.88,170.4 515.04,170.4 515.19,170.4 515.35,170.4 515.51,170.4 515.66,170.4 515.82,170.4 515.98,170.4 516.14,170.4 516.29,170.4 516.45,170.4 516.61,170.4 516.76,170.4 516.92,170.4 517.08,170.4 517.23,170.4 517.39,170.4 517.55,170.4 517.7,170.4 517.86,170.4 518.02,170.4 518.17,170.4 518.33,170.4 518.49,170.4 518.64,170.4 518.8,170.4 518.96,170.4 519.11,170.4 519.27,170.4 519.43,170.4 519.58,170.4 519.74,170.4 519.9,170.4 520.06,170.4 520.21,170.4 520.37,170.4 520.53,170.4 520.68,170.4 520.84,170.4 521,170.4 521.15,170.4 521.31,170.4 521.47,170.4 521.62,170.4 521.78,170.4 521.94,170.4 522.09,170.4 522.25,170.4 522.41,170.4 522.56,170.4 522.72,170.4 522.88,170.4 523.03,170.4 523.19,170.4 523.35,170.4 523.5,165.53 523.66,170.4 523.82,165.53 523.97,155.78 524.13,160.65 524.29,160.65 524.45,160.65 524.6,155.78 524.76,150.91 524.92,150.91 525.07,150.91 525.23,146.03 525.39,146.03 525.54,141.16 525.7,146.03 525.86,136.29 526.01,146.03 526.17,136.29 526.33,136.29 526.48,141.16 526.64,126.54 526.8,126.54 526.95,126.54 527.11,126.54 527.27,126.54 527.42,136.29 527.58,131.42 527.74,141.16 527.89,141.16 528.05,146.03 528.21,141.16 528.36,141.16 528.52,141.16 528.68,155.78 528.84,150.91 528.99,160.65 529.15,160.65 529.31,165.53 529.46,165.53 529.62,165.53 529.78,165.53 529.93,170.4 530.09,165.53 530.25,170.4 530.4,170.4 530.56,170.4 530.72,165.53 530.87,170.4 531.03,170.4 531.19,170.4 531.34,160.65 531.5,170.4 531.66,170.4 531.81,170.4 531.97,170.4 532.13,170.4 532.28,165.53 532.44,170.4 532.6,170.4 532.75,165.53 532.91,170.4 533.07,170.4 533.23,170.4 533.38,170.4 533.54,170.4 533.7,170.4 533.85,170.4 534.01,170.4 534.17,170.4 534.32,170.4 534.48,170.4 534.64,170.4 534.79,170.4 534.95,170.4 535.11,170.4 535.26,170.4 535.42,170.4 535.58,170.4 535.73,170.4 535.89,170.4 536.05,170.4 536.2,170.4 536.36,170.4 536.52,170.4 536.67,170.4 536.83,170.4 536.99,170.4 537.14,170.4 537.3,170.4 537.46,170.4 537.62,170.4 537.77,170.4 537.93,170.4 538.09,165.53 538.24,170.4 538.4,170.4 538.56,170.4 538.71,170.4 538.87,170.4 539.03,170.4 539.18,170.4 539.34,170.4 539.5,170.4 539.65,170.4 539.81,170.4 539.97,170.4 540.12,170.4 540.28,170.4 540.44,165.53 540.59,170.4 540.75,170.4 540.91,170.4 541.06,170.4 541.22,170.4 541.38,170.4 541.53,170.4 541.69,170.4 541.85,170.4 542,170.4 542.16,170.4 542.32,165.53 542.48,170.4 542.63,170.4 542.79,170.4 542.95,170.4 543.1,170.4 543.26,170.4 543.42,170.4 543.57,170.4 543.73,170.4 543.89,170.4 544.04,170.4 544.2,170.4 544.36,170.4 544.51,170.4 544.67,170.4 544.83,165.53 544.98,165.53 545.14,160.65 545.3,165.53 545.45,170.4 545.61,170.4 545.77,170.4 545.92,170.4 546.08,170.4 546.24,170.4 546.39,170.4 546.55,170.4 546.71,170.4 546.87,165.53 547.02,170.4 547.18,170.4 547.34,165.53 547.49,165.53 547.65,165.53 547.81,165.53 547.96,165.53 548.12,165.53 548.28,165.53 548.43,170.4 548.59,170.4 548.75,170.4 548.9,170.4 549.06,170.4 549.22,170.4 549.37,170.4 549.53,170.4 549.69,170.4 549.84,170.4 550,170.4 550.16,170.4 550.31,170.4 550.47,170.4 550.63,170.4 550.79,170.4 550.94,170.4 551.1,170.4 551.26,170.4 551.41,170.4 551.57,170.4 551.73,170.4 551.88,170.4 552.04,170.4 552.2,170.4 552.35,170.4 552.51,170.4 552.67,170.4 552.82,170.4 552.98,170.4 553.14,165.53 553.29,170.4 553.45,170.4 553.61,170.4 553.76,170.4 553.92,170.4 554.08,170.4 554.23,170.4 554.39,170.4 554.55,170.4 554.7,170.4 554.86,170.4 555.02,170.4 555.17,170.4 555.33,170.4 555.49,170.4 555.65,170.4 555.8,170.4 555.96,170.4 556.12,170.4 556.27,170.4 556.43,170.4 556.59,170.4 556.74,170.4 556.9,170.4 557.06,170.4 557.21,170.4 557.37,170.4 557.53,170.4 557.68,170.4 557.84,170.4 558,170.4 558.15,170.4 558.31,170.4 558.47,170.4 558.62,170.4 558.78,170.4 558.94,170.4 559.09,170.4 559.25,170.4 559.41,170.4 559.57,170.4 559.72,170.4 559.88,170.4 560.04,170.4 560.19,170.4 560.35,170.4 560.51,170.4 560.66,170.4 560.82,170.4 560.98,170.4 561.13,170.4 561.29,170.4 561.45,170.4 561.6,170.4 561.76,170.4 561.92,170.4 562.07,170.4 562.23,170.4 562.39,170.4 562.54,170.4 562.7,170.4 562.86,170.4 563.01,170.4 563.17,170.4 563.33,170.4 563.48,170.4 563.64,170.4 563.8,170.4 563.96,170.4 564.11,170.4 564.27,170.4 564.43,170.4 564.58,170.4 564.74,170.4 564.9,170.4 565.05,170.4 565.21,170.4 565.37,170.4 565.52,170.4 565.68,170.4 565.84,170.4 565.99,170.4 566.15,170.4 566.31,170.4 566.46,170.4 566.62,170.4 566.78,170.4 566.93,170.4 567.09,170.4 567.25,170.4 567.4,170.4 567.56,170.4 567.72,170.4 567.87,170.4 568.03,170.4 568.19,170.4 568.35,170.4 568.5,170.4 568.66,170.4 568.82,170.4 568.97,170.4 569.13,170.4 569.29,170.4 569.44,170.4 569.6,170.4 569.76,170.4 569.91,170.4 570.07,170.4 570.23,170.4 570.38,170.4 570.54,170.4 570.7,170.4 570.85,170.4 571.01,170.4 571.17,170.4 571.32,170.4 571.48,170.4 571.64,170.4 571.79,170.4 571.95,170.4 572.11,170.4 572.26,170.4 572.42,170.4 572.58,170.4 572.74,170.4 572.89,170.4 573.05,170.4 573.21,170.4 573.36,170.4 573.52,170.4 573.68,170.4 573.83,170.4 573.99,170.4 574.15,170.4 574.3,170.4 574.46,170.4 574.62,170.4 574.77,170.4 574.93,170.4 575.09,170.4 575.24,170.4 575.4,170.4 575.56,170.4 575.71,170.4 575.87,170.4 576.03,170.4 576.18,170.4 576.34,170.4 576.5,170.4 576.65,170.4 576.81,170.4 576.97,170.4 577.12,170.4 577.28,170.4 577.44,170.4 577.6,170.4 577.75,170.4 577.91,170.4 578.07,170.4 578.22,170.4 578.38,170.4 578.54,170.4 578.69,170.4 578.85,170.4 579.01,170.4 579.16,170.4 579.32,170.4 579.48,170.4 579.63,170.4 579.79,170.4 579.95,170.4 580.1,170.4 580.26,170.4 580.42,170.4 580.57,170.4 580.73,170.4 580.89,170.4 581.04,170.4 581.2,170.4 581.36,170.4 581.51,170.4 581.67,170.4 581.83,170.4 581.99,170.4 582.14,170.4 582.3,170.4 582.46,170.4 582.61,170.4 582.77,170.4 582.93,170.4 583.08,170.4 583.24,170.4 583.4,170.4 583.55,170.4 583.71,170.4 583.87,170.4 584.02,170.4 584.18,170.4 584.34,170.4 584.49,170.4 584.65,170.4 584.81,170.4 584.96,170.4 585.12,170.4 585.28,170.4 585.43,170.4 585.59,170.4 585.75,170.4 585.9,170.4 586.06,170.4 586.22,170.4 586.38,170.4 586.53,170.4 586.69,170.4 586.85,170.4 587,170.4 587.16,170.4 587.32,170.4 587.47,170.4 587.63,170.4 587.79,170.4 587.94,170.4 588.1,170.4" fill="none" stroke="#961f25" stroke-width="1.35" stroke-linejoin="round" stroke-linecap="round"/>
<polyline points="368.6,116.8 368.76,107.05 368.91,121.67 369.07,107.05 369.23,107.05 369.38,102.18 369.54,116.8 369.7,111.92 369.85,111.92 370.01,111.92 370.17,111.92 370.32,107.05 370.48,111.92 370.64,111.92 370.8,116.8 370.95,111.92 371.11,107.05 371.27,111.92 371.42,107.05 371.58,111.92 371.74,107.05 371.89,111.92 372.05,97.31 372.21,107.05 372.36,107.05 372.52,102.18 372.68,111.92 372.83,107.05 372.99,111.92 373.15,102.18 373.3,111.92 373.46,111.92 373.62,102.18 373.77,102.18 373.93,97.31 374.09,121.67 374.24,102.18 374.4,111.92 374.56,102.18 374.71,107.05 374.87,107.05 375.03,111.92 375.19,107.05 375.34,102.18 375.5,107.05 375.66,102.18 375.81,107.05 375.97,107.05 376.13,116.8 376.28,102.18 376.44,102.18 376.6,111.92 376.75,107.05 376.91,111.92 377.07,107.05 377.22,107.05 377.38,102.18 377.54,107.05 377.69,107.05 377.85,107.05 378.01,116.8 378.16,102.18 378.32,111.92 378.48,107.05 378.63,102.18 378.79,111.92 378.95,111.92 379.1,111.92 379.26,111.92 379.42,107.05 379.58,121.67 379.73,121.67 379.89,111.92 380.05,107.05 380.2,107.05 380.36,111.92 380.52,97.31 380.67,116.8 380.83,97.31 380.99,116.8 381.14,107.05 381.3,97.31 381.46,107.05 381.61,121.67 381.77,107.05 381.93,111.92 382.08,107.05 382.24,107.05 382.4,111.92 382.55,107.05 382.71,107.05 382.87,102.18 383.02,107.05 383.18,111.92 383.34,111.92 383.49,116.8 383.65,107.05 383.81,102.18 383.97,116.8 384.12,116.8 384.28,116.8 384.44,111.92 384.59,102.18 384.75,111.92 384.91,116.8 385.06,107.05 385.22,111.92 385.38,107.05 385.53,107.05 385.69,111.92 385.85,111.92 386,116.8 386.16,121.67 386.32,111.92 386.47,111.92 386.63,107.05 386.79,102.18 386.94,107.05 387.1,107.05 387.26,111.92 387.41,116.8 387.57,111.92 387.73,107.05 387.88,107.05 388.04,102.18 388.2,111.92 388.36,107.05 388.51,111.92 388.67,111.92 388.83,116.8 388.98,111.92 389.14,102.18 389.3,116.8 389.45,111.92 389.61,111.92 389.77,102.18 389.92,107.05 390.08,102.18 390.24,102.18 390.39,107.05 390.55,111.92 390.71,116.8 390.86,111.92 391.02,116.8 391.18,116.8 391.33,116.8 391.49,121.67 391.65,107.05 391.8,107.05 391.96,111.92 392.12,102.18 392.27,102.18 392.43,102.18 392.59,111.92 392.75,102.18 392.9,111.92 393.06,107.05 393.22,111.92 393.37,111.92 393.53,116.8 393.69,107.05 393.84,111.92 394,111.92 394.16,107.05 394.31,116.8 394.47,102.18 394.63,111.92 394.78,111.92 394.94,107.05 395.1,111.92 395.25,116.8 395.41,111.92 395.57,107.05 395.72,111.92 395.88,111.92 396.04,111.92 396.19,111.92 396.35,107.05 396.51,107.05 396.66,111.92 396.82,102.18 396.98,102.18 397.14,111.92 397.29,107.05 397.45,111.92 397.61,102.18 397.76,107.05 397.92,111.92 398.08,97.31 398.23,116.8 398.39,107.05 398.55,111.92 398.7,107.05 398.86,107.05 399.02,111.92 399.17,102.18 399.33,111.92 399.49,102.18 399.64,111.92 399.8,111.92 399.96,102.18 400.11,111.92 400.27,116.8 400.43,107.05 400.58,111.92 400.74,102.18 400.9,107.05 401.05,126.54 401.21,116.8 401.37,116.8 401.53,97.31 401.68,107.05 401.84,111.92 402,116.8 402.15,116.8 402.31,102.18 402.47,111.92 402.62,111.92 402.78,116.8 402.94,97.31 403.09,102.18 403.25,111.92 403.41,116.8 403.56,111.92 403.72,107.05 403.88,102.18 404.03,107.05 404.19,111.92 404.35,107.05 404.5,107.05 404.66,126.54 404.82,107.05 404.97,111.92 405.13,102.18 405.29,102.18 405.44,116.8 405.6,111.92 405.76,111.92 405.92,102.18 406.07,116.8 406.23,111.92 406.39,111.92 406.54,107.05 406.7,102.18 406.86,107.05 407.01,116.8 407.17,102.18 407.33,107.05 407.48,102.18 407.64,107.05 407.8,116.8 407.95,107.05 408.11,111.92 408.27,102.18 408.42,102.18 408.58,111.92 408.74,107.05 408.89,111.92 409.05,111.92 409.21,97.31 409.36,102.18 409.52,111.92 409.68,111.92 409.83,111.92 409.99,116.8 410.15,107.05 410.31,97.31 410.46,102.18 410.62,107.05 410.78,107.05 410.93,102.18 411.09,111.92 411.25,107.05 411.4,107.05 411.56,102.18 411.72,107.05 411.87,102.18 412.03,107.05 412.19,102.18 412.34,102.18 412.5,97.31 412.66,107.05 412.81,97.31 412.97,111.92 413.13,116.8 413.28,107.05 413.44,102.18 413.6,102.18 413.75,107.05 413.91,111.92 414.07,107.05 414.22,116.8 414.38,111.92 414.54,116.8 414.7,107.05 414.85,107.05 415.01,111.92 415.17,102.18 415.32,107.05 415.48,107.05 415.64,111.92 415.79,111.92 415.95,102.18 416.11,107.05 416.26,107.05 416.42,116.8 416.58,111.92 416.73,107.05 416.89,107.05 417.05,116.8 417.2,107.05 417.36,102.18 417.52,107.05 417.67,116.8 417.83,107.05 417.99,97.31 418.14,111.92 418.3,102.18 418.46,111.92 418.61,107.05 418.77,107.05 418.93,102.18 419.09,107.05 419.24,107.05 419.4,97.31 419.56,107.05 419.71,111.92 419.87,111.92 420.03,102.18 420.18,116.8 420.34,116.8 420.5,107.05 420.65,102.18 420.81,107.05 420.97,107.05 421.12,107.05 421.28,102.18 421.44,111.92 421.59,111.92 421.75,111.92 421.91,107.05 422.06,107.05 422.22,107.05 422.38,102.18 422.53,102.18 422.69,102.18 422.85,111.92 423,107.05 423.16,107.05 423.32,102.18 423.48,107.05 423.63,107.05 423.79,111.92 423.95,102.18 424.1,116.8 424.26,107.05 424.42,107.05 424.57,111.92 424.73,102.18 424.89,116.8 425.04,107.05 425.2,111.92 425.36,116.8 425.51,111.92 425.67,77.81 425.83,107.05 425.98,102.18 426.14,107.05 426.3,107.05 426.45,102.18 426.61,111.92 426.77,107.05 426.92,102.18 427.08,102.18 427.24,97.31 427.39,111.92 427.55,107.05 427.71,107.05 427.87,111.92 428.02,102.18 428.18,121.67 428.34,116.8 428.49,107.05 428.65,107.05 428.81,107.05 428.96,116.8 429.12,107.05 429.28,97.31 429.43,107.05 429.59,107.05 429.75,111.92 429.9,107.05 430.06,111.92 430.22,111.92 430.37,97.31 430.53,102.18 430.69,102.18 430.84,102.18 431,107.05 431.16,107.05 431.31,97.31 431.47,111.92 431.63,107.05 431.78,111.92 431.94,111.92 432.1,102.18 432.25,107.05 432.41,111.92 432.57,107.05 432.73,111.92 432.88,102.18 433.04,111.92 433.2,111.92 433.35,111.92 433.51,107.05 433.67,111.92 433.82,111.92 433.98,107.05 434.14,107.05 434.29,107.05 434.45,82.69 434.61,107.05 434.76,111.92 434.92,107.05 435.08,107.05 435.23,107.05 435.39,111.92 435.55,111.92 435.7,107.05 435.86,102.18 436.02,107.05 436.17,107.05 436.33,111.92 436.49,107.05 436.65,107.05 436.8,102.18 436.96,102.18 437.12,107.05 437.27,107.05 437.43,116.8 437.59,107.05 437.74,116.8 437.9,107.05 438.06,107.05 438.21,107.05 438.37,107.05 438.53,107.05 438.68,107.05 438.84,111.92 439,102.18 439.15,102.18 439.31,107.05 439.47,102.18 439.62,116.8 439.78,111.92 439.94,111.92 440.09,107.05 440.25,97.31 440.41,116.8 440.56,107.05 440.72,111.92 440.88,116.8 441.04,111.92 441.19,111.92 441.35,107.05 441.51,107.05 441.66,111.92 441.82,107.05 441.98,102.18 442.13,107.05 442.29,111.92 442.45,102.18 442.6,107.05 442.76,102.18 442.92,107.05 443.07,102.18 443.23,111.92 443.39,107.05 443.54,102.18 443.7,111.92 443.86,102.18 444.01,107.05 444.17,111.92 444.33,102.18 444.48,107.05 444.64,102.18 444.8,111.92 444.95,107.05 445.11,102.18 445.27,107.05 445.43,116.8 445.58,116.8 445.74,111.92 445.9,107.05 446.05,102.18 446.21,111.92 446.37,97.31 446.52,102.18 446.68,107.05 446.84,107.05 446.99,111.92 447.15,116.8 447.31,111.92 447.46,116.8 447.62,111.92 447.78,102.18 447.93,102.18 448.09,111.92 448.25,116.8 448.4,102.18 448.56,111.92 448.72,102.18 448.87,102.18 449.03,102.18 449.19,102.18 449.34,102.18 449.5,111.92 449.66,102.18 449.82,102.18 449.97,111.92 450.13,107.05 450.29,102.18 450.44,107.05 450.6,102.18 450.76,102.18 450.91,102.18 451.07,111.92 451.23,97.31 451.38,107.05 451.54,107.05 451.7,107.05 451.85,102.18 452.01,111.92 452.17,126.54 452.32,116.8 452.48,111.92 452.64,107.05 452.79,116.8 452.95,111.92 453.11,111.92 453.26,111.92 453.42,111.92 453.58,111.92 453.73,111.92 453.89,121.67 454.05,111.92 454.21,111.92 454.36,111.92 454.52,116.8 454.68,107.05 454.83,111.92 454.99,97.31 455.15,102.18 455.3,107.05 455.46,116.8 455.62,97.31 455.77,111.92 455.93,107.05 456.09,121.67 456.24,111.92 456.4,116.8 456.56,107.05 456.71,102.18 456.87,107.05 457.03,107.05 457.18,107.05 457.34,111.92 457.5,111.92 457.65,107.05 457.81,107.05 457.97,107.05 458.12,111.92 458.28,102.18 458.44,107.05 458.6,102.18 458.75,111.92 458.91,111.92 459.07,97.31 459.22,107.05 459.38,121.67 459.54,107.05 459.69,116.8 459.85,111.92 460.01,111.92 460.16,116.8 460.32,111.92 460.48,107.05 460.63,111.92 460.79,111.92 460.95,107.05 461.1,97.31 461.26,111.92 461.42,107.05 461.57,102.18 461.73,102.18 461.89,111.92 462.04,111.92 462.2,111.92 462.36,111.92 462.51,97.31 462.67,102.18 462.83,116.8 462.99,102.18 463.14,102.18 463.3,102.18 463.46,107.05 463.61,111.92 463.77,116.8 463.93,107.05 464.08,111.92 464.24,102.18 464.4,111.92 464.55,116.8 464.71,102.18 464.87,111.92 465.02,107.05 465.18,116.8 465.34,97.31 465.49,107.05 465.65,102.18 465.81,102.18 465.96,111.92 466.12,111.92 466.28,116.8 466.43,102.18 466.59,107.05 466.75,107.05 466.9,97.31 467.06,107.05 467.22,107.05 467.38,102.18 467.53,116.8 467.69,111.92 467.85,102.18 468,111.92 468.16,111.92 468.32,97.31 468.47,116.8 468.63,116.8 468.79,116.8 468.94,107.05 469.1,97.31 469.26,97.31 469.41,107.05 469.57,107.05 469.73,107.05 469.88,107.05 470.04,111.92 470.2,107.05 470.35,107.05 470.51,111.92 470.67,111.92 470.82,97.31 470.98,107.05 471.14,107.05 471.29,116.8 471.45,102.18 471.61,121.67 471.77,107.05 471.92,97.31 472.08,97.31 472.24,107.05 472.39,97.31 472.55,107.05 472.71,107.05 472.86,97.31 473.02,97.31 473.18,107.05 473.33,107.05 473.49,102.18 473.65,97.31 473.8,107.05 473.96,97.31 474.12,97.31 474.27,102.18 474.43,102.18 474.59,102.18 474.74,92.43 474.9,102.18 475.06,97.31 475.21,92.43 475.37,102.18 475.53,102.18 475.68,107.05 475.84,87.56 476,92.43 476.16,111.92 476.31,97.31 476.47,97.31 476.63,102.18 476.78,111.92 476.94,107.05 477.1,107.05 477.25,102.18 477.41,111.92 477.57,97.31 477.72,111.92 477.88,102.18 478.04,87.56 478.19,107.05 478.35,102.18 478.51,102.18 478.66,102.18 478.82,77.81 478.98,97.31 479.13,92.43 479.29,87.56 479.45,107.05 479.6,82.69 479.76,102.18 479.92,97.31 480.07,92.43 480.23,82.69 480.39,102.18 480.55,87.56 480.7,107.05 480.86,82.69 481.02,97.31 481.17,92.43 481.33,92.43 481.49,92.43 481.64,97.31 481.8,87.56 481.96,92.43 482.11,97.31 482.27,87.56 482.43,77.81 482.58,107.05 482.74,97.31 482.9,92.43 483.05,102.18 483.21,102.18 483.37,82.69 483.52,102.18 483.68,92.43 483.84,92.43 483.99,102.18 484.15,97.31 484.31,92.43 484.46,77.81 484.62,102.18 484.78,87.56 484.94,102.18 485.09,92.43 485.25,102.18 485.41,92.43 485.56,82.69 485.72,97.31 485.88,107.05 486.03,102.18 486.19,77.81 486.35,97.31 486.5,92.43 486.66,92.43 486.82,102.18 486.97,87.56 487.13,102.18 487.29,97.31 487.44,97.31 487.6,107.05 487.76,97.31 487.91,97.31 488.07,87.56 488.23,97.31 488.38,111.92 488.54,92.43 488.7,82.69 488.85,102.18 489.01,107.05 489.17,92.43 489.33,97.31 489.48,87.56 489.64,87.56 489.8,92.43 489.95,102.18 490.11,87.56 490.27,97.31 490.42,97.31 490.58,107.05 490.74,97.31 490.89,97.31 491.05,92.43 491.21,92.43 491.36,92.43 491.52,82.69 491.68,92.43 491.83,92.43 491.99,107.05 492.15,97.31 492.3,92.43 492.46,87.56 492.62,92.43 492.77,97.31 492.93,111.92 493.09,107.05 493.24,102.18 493.4,97.31 493.56,107.05 493.72,87.56 493.87,97.31 494.03,77.81 494.19,102.18 494.34,92.43 494.5,87.56 494.66,102.18 494.81,97.31 494.97,102.18 495.13,87.56 495.28,87.56 495.44,92.43 495.6,97.31 495.75,102.18 495.91,97.31 496.07,87.56 496.22,92.43 496.38,107.05 496.54,97.31 496.69,92.43 496.85,92.43 497.01,92.43 497.16,97.31 497.32,92.43 497.48,97.31 497.63,111.92 497.79,102.18 497.95,82.69 498.11,97.31 498.26,87.56 498.42,107.05 498.58,97.31 498.73,87.56 498.89,97.31 499.05,102.18 499.2,102.18 499.36,92.43 499.52,92.43 499.67,116.8 499.83,107.05 499.99,97.31 500.14,107.05 500.3,102.18 500.46,107.05 500.61,97.31 500.77,97.31 500.93,102.18 501.08,97.31 501.24,111.92 501.4,107.05 501.55,92.43 501.71,82.69 501.87,102.18 502.02,102.18 502.18,97.31 502.34,102.18 502.5,102.18 502.65,97.31 502.81,111.92 502.97,92.43 503.12,92.43 503.28,107.05 503.44,97.31 503.59,92.43 503.75,92.43 503.91,97.31 504.06,87.56 504.22,77.81 504.38,87.56 504.53,102.18 504.69,92.43 504.85,102.18 505,102.18 505.16,92.43 505.32,97.31 505.47,97.31 505.63,97.31 505.79,92.43 505.94,87.56 506.1,92.43 506.26,97.31 506.41,82.69 506.57,92.43 506.73,82.69 506.88,102.18 507.04,102.18 507.2,82.69 507.36,82.69 507.51,82.69 507.67,97.31 507.83,97.31 507.98,92.43 508.14,121.67 508.3,92.43 508.45,97.31 508.61,92.43 508.77,82.69 508.92,87.56 509.08,87.56 509.24,82.69 509.39,107.05 509.55,102.18 509.71,107.05 509.86,102.18 510.02,102.18 510.18,97.31 510.33,97.31 510.49,102.18 510.65,102.18 510.8,97.31 510.96,87.56 511.12,92.43 511.28,97.31 511.43,68.07 511.59,102.18 511.75,97.31 511.9,97.31 512.06,111.92 512.22,102.18 512.37,87.56 512.53,92.43 512.69,97.31 512.84,92.43 513,102.18 513.16,92.43 513.31,107.05 513.47,102.18 513.63,92.43 513.78,111.92 513.94,102.18 514.1,107.05 514.25,97.31 514.41,92.43 514.57,107.05 514.72,92.43 514.88,107.05 515.04,92.43 515.19,102.18 515.35,102.18 515.51,92.43 515.66,102.18 515.82,97.31 515.98,107.05 516.14,107.05 516.29,92.43 516.45,97.31 516.61,107.05 516.76,97.31 516.92,97.31 517.08,102.18 517.23,97.31 517.39,111.92 517.55,102.18 517.7,107.05 517.86,116.8 518.02,92.43 518.17,111.92 518.33,92.43 518.49,102.18 518.64,102.18 518.8,107.05 518.96,102.18 519.11,102.18 519.27,92.43 519.43,102.18 519.58,97.31 519.74,102.18 519.9,87.56 520.06,97.31 520.21,102.18 520.37,107.05 520.53,82.69 520.68,82.69 520.84,92.43 521,97.31 521.15,87.56 521.31,92.43 521.47,107.05 521.62,92.43 521.78,107.05 521.94,87.56 522.09,121.67 522.25,92.43 522.41,97.31 522.56,116.8 522.72,97.31 522.88,92.43 523.03,97.31 523.19,92.43 523.35,102.18 523.5,87.56 523.66,92.43 523.82,102.18 523.97,102.18 524.13,107.05 524.29,102.18 524.45,107.05 524.6,107.05 524.76,111.92 524.92,107.05 525.07,102.18 525.23,107.05 525.39,111.92 525.54,107.05 525.7,97.31 525.86,92.43 526.01,97.31 526.17,116.8 526.33,77.81 526.48,102.18 526.64,102.18 526.8,92.43 526.95,97.31 527.11,102.18 527.27,97.31 527.42,107.05 527.58,92.43 527.74,107.05 527.89,107.05 528.05,107.05 528.21,97.31 528.36,116.8 528.52,107.05 528.68,116.8 528.84,126.54 528.99,111.92 529.15,126.54 529.31,126.54 529.46,126.54 529.62,121.67 529.78,116.8 529.93,126.54 530.09,116.8 530.25,126.54 530.4,121.67 530.56,131.42 530.72,136.29 530.87,126.54 531.03,116.8 531.19,116.8 531.34,121.67 531.5,131.42 531.66,131.42 531.81,131.42 531.97,131.42 532.13,121.67 532.28,136.29 532.44,126.54 532.6,116.8 532.75,126.54 532.91,136.29 533.07,136.29 533.23,136.29 533.38,146.03 533.54,116.8 533.7,131.42 533.85,126.54 534.01,131.42 534.17,126.54 534.32,131.42 534.48,141.16 534.64,126.54 534.79,136.29 534.95,141.16 535.11,146.03 535.26,136.29 535.42,146.03 535.58,150.91 535.73,126.54 535.89,136.29 536.05,136.29 536.2,136.29 536.36,136.29 536.52,136.29 536.67,146.03 536.83,141.16 536.99,146.03 537.14,141.16 537.3,136.29 537.46,146.03 537.62,136.29 537.77,141.16 537.93,136.29 538.09,141.16 538.24,155.78 538.4,165.53 538.56,150.91 538.71,150.91 538.87,131.42 539.03,141.16 539.18,150.91 539.34,141.16 539.5,170.4 539.65,155.78 539.81,150.91 539.97,150.91 540.12,155.78 540.28,146.03 540.44,165.53 540.59,146.03 540.75,170.4 540.91,155.78 541.06,136.29 541.22,160.65 541.38,155.78 541.53,155.78 541.69,150.91 541.85,146.03 542,155.78 542.16,160.65 542.32,146.03 542.48,146.03 542.63,150.91 542.79,141.16 542.95,141.16 543.1,141.16 543.26,155.78 543.42,146.03 543.57,146.03 543.73,136.29 543.89,160.65 544.04,141.16 544.2,150.91 544.36,155.78 544.51,150.91 544.67,155.78 544.83,165.53 544.98,141.16 545.14,155.78 545.3,146.03 545.45,146.03 545.61,146.03 545.77,155.78 545.92,141.16 546.08,150.91 546.24,136.29 546.39,141.16 546.55,165.53 546.71,141.16 546.87,150.91 547.02,131.42 547.18,146.03 547.34,146.03 547.49,141.16 547.65,141.16 547.81,131.42 547.96,141.16 548.12,126.54 548.28,136.29 548.43,131.42 548.59,126.54 548.75,141.16 548.9,136.29 549.06,126.54 549.22,131.42 549.37,131.42 549.53,121.67 549.69,136.29 549.84,121.67 550,121.67 550.16,126.54 550.31,131.42 550.47,141.16 550.63,126.54 550.79,126.54 550.94,136.29 551.1,136.29 551.26,136.29 551.41,141.16 551.57,131.42 551.73,126.54 551.88,136.29 552.04,136.29 552.2,126.54 552.35,141.16 552.51,131.42 552.67,131.42 552.82,136.29 552.98,131.42 553.14,141.16 553.29,131.42 553.45,131.42 553.61,136.29 553.76,146.03 553.92,141.16 554.08,150.91 554.23,146.03 554.39,141.16 554.55,150.91 554.7,141.16 554.86,150.91 555.02,146.03 555.17,141.16 555.33,146.03 555.49,155.78 555.65,136.29 555.8,150.91 555.96,155.78 556.12,146.03 556.27,136.29 556.43,150.91 556.59,146.03 556.74,150.91 556.9,160.65 557.06,141.16 557.21,141.16 557.37,141.16 557.53,136.29 557.68,146.03 557.84,136.29 558,146.03 558.15,165.53 558.31,160.65 558.47,136.29 558.62,155.78 558.78,150.91 558.94,150.91 559.09,150.91 559.25,146.03 559.41,155.78 559.57,146.03 559.72,155.78 559.88,141.16 560.04,141.16 560.19,155.78 560.35,141.16 560.51,155.78 560.66,155.78 560.82,146.03 560.98,146.03 561.13,155.78 561.29,146.03 561.45,150.91 561.6,150.91 561.76,160.65 561.92,155.78 562.07,141.16 562.23,136.29 562.39,141.16 562.54,160.65 562.7,146.03 562.86,150.91 563.01,155.78 563.17,155.78 563.33,150.91 563.48,160.65 563.64,160.65 563.8,141.16 563.96,136.29 564.11,155.78 564.27,160.65 564.43,160.65 564.58,155.78 564.74,160.65 564.9,165.53 565.05,155.78 565.21,150.91 565.37,150.91 565.52,155.78 565.68,146.03 565.84,136.29 565.99,146.03 566.15,155.78 566.31,146.03 566.46,146.03 566.62,150.91 566.78,141.16 566.93,150.91 567.09,141.16 567.25,136.29 567.4,141.16 567.56,160.65 567.72,141.16 567.87,126.54 568.03,131.42 568.19,146.03 568.35,160.65 568.5,136.29 568.66,150.91 568.82,150.91 568.97,150.91 569.13,155.78 569.29,146.03 569.44,146.03 569.6,155.78 569.76,146.03 569.91,155.78 570.07,146.03 570.23,141.16 570.38,150.91 570.54,141.16 570.7,150.91 570.85,155.78 571.01,155.78 571.17,160.65 571.32,165.53 571.48,131.42 571.64,150.91 571.79,150.91 571.95,146.03 572.11,155.78 572.26,150.91 572.42,146.03 572.58,150.91 572.74,146.03 572.89,146.03 573.05,116.8 573.21,146.03 573.36,146.03 573.52,136.29 573.68,141.16 573.83,150.91 573.99,146.03 574.15,136.29 574.3,155.78 574.46,146.03 574.62,160.65 574.77,160.65 574.93,141.16 575.09,146.03 575.24,155.78 575.4,141.16 575.56,146.03 575.71,155.78 575.87,150.91 576.03,150.91 576.18,155.78 576.34,165.53 576.5,150.91 576.65,150.91 576.81,150.91 576.97,150.91 577.12,155.78 577.28,150.91 577.44,155.78 577.6,146.03 577.75,160.65 577.91,160.65 578.07,155.78 578.22,141.16 578.38,146.03 578.54,150.91 578.69,150.91 578.85,155.78 579.01,150.91 579.16,170.4 579.32,160.65 579.48,160.65 579.63,146.03 579.79,155.78 579.95,146.03 580.1,141.16 580.26,155.78 580.42,150.91 580.57,155.78 580.73,136.29 580.89,155.78 581.04,141.16 581.2,160.65 581.36,146.03 581.51,141.16 581.67,160.65 581.83,160.65 581.99,141.16 582.14,146.03 582.3,146.03 582.46,141.16 582.61,146.03 582.77,136.29 582.93,141.16 583.08,136.29 583.24,155.78 583.4,146.03 583.55,141.16 583.71,155.78 583.87,146.03 584.02,141.16 584.18,146.03 584.34,150.91 584.49,141.16 584.65,146.03 584.81,136.29 584.96,126.54 585.12,136.29 585.28,150.91 585.43,141.16 585.59,146.03 585.75,150.91 585.9,141.16 586.06,150.91 586.22,155.78 586.38,131.42 586.53,141.16 586.69,141.16 586.85,141.16 587,150.91 587.16,126.54 587.32,126.54 587.47,131.42 587.63,155.78 587.79,136.29 587.94,141.16 588.1,131.42" fill="none" stroke="#e84545" stroke-width="1.35" stroke-linejoin="round" stroke-linecap="round"/>
<polyline points="368.6,107.05 368.76,107.05 368.91,102.18 369.07,102.18 369.23,97.31 369.38,87.56 369.54,102.18 369.7,97.31 369.85,97.31 370.01,97.31 370.17,102.18 370.32,102.18 370.48,97.31 370.64,111.92 370.8,107.05 370.95,102.18 371.11,102.18 371.27,102.18 371.42,107.05 371.58,102.18 371.74,102.18 371.89,102.18 372.05,102.18 372.21,92.43 372.36,107.05 372.52,107.05 372.68,107.05 372.83,92.43 372.99,116.8 373.15,107.05 373.3,102.18 373.46,107.05 373.62,107.05 373.77,111.92 373.93,111.92 374.09,97.31 374.24,111.92 374.4,107.05 374.56,102.18 374.71,102.18 374.87,97.31 375.03,107.05 375.19,102.18 375.34,92.43 375.5,92.43 375.66,97.31 375.81,87.56 375.97,102.18 376.13,92.43 376.28,97.31 376.44,107.05 376.6,102.18 376.75,107.05 376.91,92.43 377.07,107.05 377.22,92.43 377.38,97.31 377.54,107.05 377.69,102.18 377.85,102.18 378.01,97.31 378.16,97.31 378.32,111.92 378.48,111.92 378.63,111.92 378.79,97.31 378.95,97.31 379.1,107.05 379.26,102.18 379.42,102.18 379.58,97.31 379.73,107.05 379.89,107.05 380.05,116.8 380.2,111.92 380.36,102.18 380.52,97.31 380.67,102.18 380.83,107.05 380.99,116.8 381.14,97.31 381.3,92.43 381.46,116.8 381.61,107.05 381.77,107.05 381.93,107.05 382.08,97.31 382.24,92.43 382.4,102.18 382.55,97.31 382.71,111.92 382.87,116.8 383.02,102.18 383.18,97.31 383.34,116.8 383.49,107.05 383.65,116.8 383.81,97.31 383.97,111.92 384.12,107.05 384.28,107.05 384.44,111.92 384.59,107.05 384.75,107.05 384.91,102.18 385.06,97.31 385.22,102.18 385.38,92.43 385.53,97.31 385.69,92.43 385.85,107.05 386,102.18 386.16,72.94 386.32,102.18 386.47,97.31 386.63,92.43 386.79,102.18 386.94,107.05 387.1,87.56 387.26,92.43 387.41,97.31 387.57,92.43 387.73,107.05 387.88,107.05 388.04,111.92 388.2,111.92 388.36,102.18 388.51,107.05 388.67,107.05 388.83,102.18 388.98,102.18 389.14,102.18 389.3,87.56 389.45,111.92 389.61,92.43 389.77,107.05 389.92,87.56 390.08,111.92 390.24,97.31 390.39,107.05 390.55,102.18 390.71,102.18 390.86,102.18 391.02,107.05 391.18,107.05 391.33,111.92 391.49,92.43 391.65,102.18 391.8,102.18 391.96,97.31 392.12,97.31 392.27,107.05 392.43,111.92 392.59,97.31 392.75,111.92 392.9,107.05 393.06,102.18 393.22,111.92 393.37,102.18 393.53,111.92 393.69,102.18 393.84,111.92 394,107.05 394.16,111.92 394.31,107.05 394.47,107.05 394.63,97.31 394.78,107.05 394.94,97.31 395.1,102.18 395.25,97.31 395.41,107.05 395.57,107.05 395.72,92.43 395.88,102.18 396.04,97.31 396.19,102.18 396.35,116.8 396.51,92.43 396.66,92.43 396.82,107.05 396.98,107.05 397.14,97.31 397.29,97.31 397.45,107.05 397.61,87.56 397.76,102.18 397.92,97.31 398.08,107.05 398.23,92.43 398.39,102.18 398.55,97.31 398.7,111.92 398.86,102.18 399.02,97.31 399.17,107.05 399.33,107.05 399.49,107.05 399.64,92.43 399.8,107.05 399.96,107.05 400.11,97.31 400.27,107.05 400.43,107.05 400.58,107.05 400.74,92.43 400.9,92.43 401.05,107.05 401.21,87.56 401.37,97.31 401.53,97.31 401.68,97.31 401.84,102.18 402,97.31 402.15,107.05 402.31,111.92 402.47,102.18 402.62,92.43 402.78,87.56 402.94,102.18 403.09,111.92 403.25,107.05 403.41,107.05 403.56,97.31 403.72,97.31 403.88,107.05 404.03,102.18 404.19,111.92 404.35,107.05 404.5,97.31 404.66,102.18 404.82,92.43 404.97,107.05 405.13,107.05 405.29,102.18 405.44,111.92 405.6,97.31 405.76,102.18 405.92,97.31 406.07,97.31 406.23,97.31 406.39,107.05 406.54,111.92 406.7,102.18 406.86,102.18 407.01,97.31 407.17,97.31 407.33,92.43 407.48,116.8 407.64,102.18 407.8,107.05 407.95,102.18 408.11,92.43 408.27,107.05 408.42,107.05 408.58,111.92 408.74,87.56 408.89,102.18 409.05,102.18 409.21,111.92 409.36,107.05 409.52,97.31 409.68,97.31 409.83,97.31 409.99,107.05 410.15,111.92 410.31,107.05 410.46,97.31 410.62,102.18 410.78,111.92 410.93,97.31 411.09,102.18 411.25,97.31 411.4,107.05 411.56,97.31 411.72,107.05 411.87,97.31 412.03,97.31 412.19,92.43 412.34,107.05 412.5,102.18 412.66,92.43 412.81,107.05 412.97,107.05 413.13,97.31 413.28,111.92 413.44,102.18 413.6,111.92 413.75,97.31 413.91,107.05 414.07,107.05 414.22,92.43 414.38,102.18 414.54,102.18 414.7,111.92 414.85,97.31 415.01,92.43 415.17,107.05 415.32,97.31 415.48,102.18 415.64,102.18 415.79,97.31 415.95,97.31 416.11,111.92 416.26,107.05 416.42,107.05 416.58,102.18 416.73,107.05 416.89,107.05 417.05,102.18 417.2,102.18 417.36,121.67 417.52,107.05 417.67,102.18 417.83,111.92 417.99,111.92 418.14,107.05 418.3,107.05 418.46,107.05 418.61,107.05 418.77,107.05 418.93,107.05 419.09,102.18 419.24,102.18 419.4,107.05 419.56,111.92 419.71,116.8 419.87,102.18 420.03,97.31 420.18,107.05 420.34,97.31 420.5,102.18 420.65,97.31 420.81,116.8 420.97,102.18 421.12,102.18 421.28,92.43 421.44,97.31 421.59,102.18 421.75,107.05 421.91,92.43 422.06,92.43 422.22,107.05 422.38,102.18 422.53,107.05 422.69,102.18 422.85,102.18 423,92.43 423.16,111.92 423.32,111.92 423.48,111.92 423.63,102.18 423.79,111.92 423.95,107.05 424.1,107.05 424.26,121.67 424.42,97.31 424.57,102.18 424.73,82.69 424.89,82.69 425.04,121.67 425.2,92.43 425.36,102.18 425.51,111.92 425.67,107.05 425.83,102.18 425.98,111.92 426.14,107.05 426.3,107.05 426.45,102.18 426.61,116.8 426.77,111.92 426.92,107.05 427.08,107.05 427.24,107.05 427.39,107.05 427.55,107.05 427.71,116.8 427.87,102.18 428.02,111.92 428.18,107.05 428.34,111.92 428.49,107.05 428.65,107.05 428.81,107.05 428.96,111.92 429.12,102.18 429.28,107.05 429.43,92.43 429.59,107.05 429.75,116.8 429.9,102.18 430.06,102.18 430.22,107.05 430.37,102.18 430.53,97.31 430.69,97.31 430.84,121.67 431,102.18 431.16,107.05 431.31,116.8 431.47,111.92 431.63,107.05 431.78,107.05 431.94,102.18 432.1,111.92 432.25,111.92 432.41,102.18 432.57,107.05 432.73,92.43 432.88,107.05 433.04,102.18 433.2,107.05 433.35,116.8 433.51,102.18 433.67,116.8 433.82,107.05 433.98,97.31 434.14,102.18 434.29,102.18 434.45,97.31 434.61,102.18 434.76,107.05 434.92,97.31 435.08,97.31 435.23,97.31 435.39,97.31 435.55,107.05 435.7,107.05 435.86,107.05 436.02,111.92 436.17,107.05 436.33,97.31 436.49,107.05 436.65,77.81 436.8,97.31 436.96,111.92 437.12,102.18 437.27,102.18 437.43,102.18 437.59,111.92 437.74,107.05 437.9,102.18 438.06,92.43 438.21,92.43 438.37,97.31 438.53,97.31 438.68,111.92 438.84,82.69 439,107.05 439.15,102.18 439.31,111.92 439.47,116.8 439.62,111.92 439.78,97.31 439.94,102.18 440.09,92.43 440.25,107.05 440.41,97.31 440.56,102.18 440.72,97.31 440.88,97.31 441.04,107.05 441.19,92.43 441.35,111.92 441.51,102.18 441.66,102.18 441.82,102.18 441.98,102.18 442.13,111.92 442.29,111.92 442.45,111.92 442.6,102.18 442.76,97.31 442.92,97.31 443.07,102.18 443.23,102.18 443.39,111.92 443.54,116.8 443.7,111.92 443.86,102.18 444.01,111.92 444.17,107.05 444.33,111.92 444.48,102.18 444.64,102.18 444.8,102.18 444.95,107.05 445.11,102.18 445.27,102.18 445.43,92.43 445.58,97.31 445.74,107.05 445.9,102.18 446.05,107.05 446.21,107.05 446.37,92.43 446.52,111.92 446.68,92.43 446.84,111.92 446.99,102.18 447.15,102.18 447.31,107.05 447.46,97.31 447.62,97.31 447.78,107.05 447.93,102.18 448.09,102.18 448.25,102.18 448.4,107.05 448.56,102.18 448.72,97.31 448.87,107.05 449.03,107.05 449.19,111.92 449.34,107.05 449.5,116.8 449.66,116.8 449.82,111.92 449.97,116.8 450.13,107.05 450.29,111.92 450.44,102.18 450.6,92.43 450.76,97.31 450.91,97.31 451.07,111.92 451.23,107.05 451.38,102.18 451.54,102.18 451.7,102.18 451.85,111.92 452.01,116.8 452.17,102.18 452.32,102.18 452.48,111.92 452.64,107.05 452.79,107.05 452.95,107.05 453.11,107.05 453.26,102.18 453.42,111.92 453.58,97.31 453.73,97.31 453.89,102.18 454.05,102.18 454.21,97.31 454.36,97.31 454.52,107.05 454.68,102.18 454.83,97.31 454.99,97.31 455.15,107.05 455.3,111.92 455.46,102.18 455.62,107.05 455.77,116.8 455.93,107.05 456.09,111.92 456.24,107.05 456.4,97.31 456.56,107.05 456.71,97.31 456.87,107.05 457.03,102.18 457.18,92.43 457.34,97.31 457.5,107.05 457.65,111.92 457.81,107.05 457.97,97.31 458.12,111.92 458.28,107.05 458.44,102.18 458.6,107.05 458.75,102.18 458.91,102.18 459.07,92.43 459.22,97.31 459.38,102.18 459.54,107.05 459.69,97.31 459.85,102.18 460.01,92.43 460.16,116.8 460.32,107.05 460.48,102.18 460.63,97.31 460.79,87.56 460.95,107.05 461.1,116.8 461.26,97.31 461.42,92.43 461.57,102.18 461.73,102.18 461.89,107.05 462.04,92.43 462.2,107.05 462.36,111.92 462.51,102.18 462.67,97.31 462.83,97.31 462.99,97.31 463.14,102.18 463.3,92.43 463.46,92.43 463.61,107.05 463.77,111.92 463.93,102.18 464.08,97.31 464.24,102.18 464.4,92.43 464.55,97.31 464.71,97.31 464.87,97.31 465.02,97.31 465.18,111.92 465.34,107.05 465.49,116.8 465.65,107.05 465.81,107.05 465.96,111.92 466.12,111.92 466.28,107.05 466.43,102.18 466.59,97.31 466.75,97.31 466.9,102.18 467.06,107.05 467.22,107.05 467.38,107.05 467.53,97.31 467.69,111.92 467.85,111.92 468,107.05 468.16,97.31 468.32,102.18 468.47,102.18 468.63,97.31 468.79,97.31 468.94,97.31 469.1,97.31 469.26,102.18 469.41,97.31 469.57,92.43 469.73,102.18 469.88,107.05 470.04,92.43 470.2,102.18 470.35,92.43 470.51,92.43 470.67,97.31 470.82,87.56 470.98,92.43 471.14,102.18 471.29,92.43 471.45,92.43 471.61,97.31 471.77,87.56 471.92,77.81 472.08,82.69 472.24,87.56 472.39,92.43 472.55,92.43 472.71,77.81 472.86,82.69 473.02,77.81 473.18,87.56 473.33,77.81 473.49,77.81 473.65,82.69 473.8,82.69 473.96,77.81 474.12,82.69 474.27,82.69 474.43,72.94 474.59,82.69 474.74,92.43 474.9,87.56 475.06,77.81 475.21,82.69 475.37,77.81 475.53,72.94 475.68,63.19 475.84,92.43 476,68.07 476.16,77.81 476.31,82.69 476.47,82.69 476.63,87.56 476.78,68.07 476.94,68.07 477.1,72.94 477.25,72.94 477.41,82.69 477.57,72.94 477.72,68.07 477.88,72.94 478.04,77.81 478.19,92.43 478.35,72.94 478.51,82.69 478.66,77.81 478.82,82.69 478.98,68.07 479.13,82.69 479.29,63.19 479.45,72.94 479.6,77.81 479.76,72.94 479.92,68.07 480.07,63.19 480.23,68.07 480.39,87.56 480.55,77.81 480.7,72.94 480.86,87.56 481.02,72.94 481.17,82.69 481.33,68.07 481.49,72.94 481.64,72.94 481.8,82.69 481.96,72.94 482.11,68.07 482.27,77.81 482.43,82.69 482.58,77.81 482.74,72.94 482.9,77.81 483.05,63.19 483.21,63.19 483.37,77.81 483.52,68.07 483.68,58.32 483.84,53.45 483.99,72.94 484.15,87.56 484.31,72.94 484.46,77.81 484.62,63.19 484.78,72.94 484.94,58.32 485.09,63.19 485.25,48.58 485.41,77.81 485.56,82.69 485.72,72.94 485.88,82.69 486.03,82.69 486.19,63.19 486.35,82.69 486.5,77.81 486.66,82.69 486.82,68.07 486.97,77.81 487.13,63.19 487.29,77.81 487.44,77.81 487.6,68.07 487.76,77.81 487.91,68.07 488.07,77.81 488.23,72.94 488.38,72.94 488.54,77.81 488.7,72.94 488.85,82.69 489.01,82.69 489.17,82.69 489.33,72.94 489.48,63.19 489.64,77.81 489.8,77.81 489.95,82.69 490.11,82.69 490.27,82.69 490.42,68.07 490.58,68.07 490.74,82.69 490.89,72.94 491.05,63.19 491.21,82.69 491.36,87.56 491.52,68.07 491.68,92.43 491.83,77.81 491.99,77.81 492.15,77.81 492.3,92.43 492.46,82.69 492.62,77.81 492.77,92.43 492.93,82.69 493.09,82.69 493.24,77.81 493.4,77.81 493.56,82.69 493.72,92.43 493.87,82.69 494.03,92.43 494.19,92.43 494.34,68.07 494.5,77.81 494.66,82.69 494.81,87.56 494.97,82.69 495.13,82.69 495.28,87.56 495.44,77.81 495.6,82.69 495.75,82.69 495.91,87.56 496.07,92.43 496.22,82.69 496.38,68.07 496.54,82.69 496.69,82.69 496.85,82.69 497.01,68.07 497.16,63.19 497.32,82.69 497.48,77.81 497.63,72.94 497.79,72.94 497.95,87.56 498.11,82.69 498.26,72.94 498.42,77.81 498.58,87.56 498.73,72.94 498.89,87.56 499.05,72.94 499.2,87.56 499.36,87.56 499.52,82.69 499.67,77.81 499.83,87.56 499.99,82.69 500.14,72.94 500.3,72.94 500.46,77.81 500.61,87.56 500.77,77.81 500.93,87.56 501.08,72.94 501.24,82.69 501.4,82.69 501.55,92.43 501.71,82.69 501.87,82.69 502.02,92.43 502.18,87.56 502.34,77.81 502.5,72.94 502.65,77.81 502.81,77.81 502.97,82.69 503.12,63.19 503.28,72.94 503.44,87.56 503.59,63.19 503.75,82.69 503.91,68.07 504.06,72.94 504.22,77.81 504.38,92.43 504.53,68.07 504.69,72.94 504.85,77.81 505,77.81 505.16,77.81 505.32,77.81 505.47,72.94 505.63,77.81 505.79,68.07 505.94,53.45 506.1,63.19 506.26,82.69 506.41,72.94 506.57,58.32 506.73,68.07 506.88,68.07 507.04,68.07 507.2,77.81 507.36,58.32 507.51,72.94 507.67,63.19 507.83,63.19 507.98,63.19 508.14,68.07 508.3,72.94 508.45,68.07 508.61,68.07 508.77,63.19 508.92,77.81 509.08,53.45 509.24,58.32 509.39,58.32 509.55,82.69 509.71,77.81 509.86,72.94 510.02,72.94 510.18,72.94 510.33,63.19 510.49,68.07 510.65,63.19 510.8,72.94 510.96,82.69 511.12,63.19 511.28,77.81 511.43,63.19 511.59,58.32 511.75,53.45 511.9,72.94 512.06,77.81 512.22,82.69 512.37,77.81 512.53,72.94 512.69,72.94 512.84,77.81 513,77.81 513.16,68.07 513.31,77.81 513.47,68.07 513.63,68.07 513.78,72.94 513.94,63.19 514.1,68.07 514.25,82.69 514.41,77.81 514.57,72.94 514.72,72.94 514.88,68.07 515.04,72.94 515.19,58.32 515.35,68.07 515.51,58.32 515.66,77.81 515.82,68.07 515.98,77.81 516.14,87.56 516.29,58.32 516.45,77.81 516.61,77.81 516.76,72.94 516.92,68.07 517.08,72.94 517.23,77.81 517.39,68.07 517.55,77.81 517.7,72.94 517.86,87.56 518.02,82.69 518.17,77.81 518.33,77.81 518.49,87.56 518.64,72.94 518.8,72.94 518.96,92.43 519.11,63.19 519.27,72.94 519.43,68.07 519.58,77.81 519.74,72.94 519.9,82.69 520.06,63.19 520.21,77.81 520.37,72.94 520.53,72.94 520.68,77.81 520.84,68.07 521,87.56 521.15,82.69 521.31,68.07 521.47,82.69 521.62,72.94 521.78,77.81 521.94,77.81 522.09,72.94 522.25,82.69 522.41,68.07 522.56,87.56 522.72,77.81 522.88,77.81 523.03,77.81 523.19,68.07 523.35,77.81 523.5,72.94 523.66,92.43 523.82,82.69 523.97,77.81 524.13,92.43 524.29,72.94 524.45,77.81 524.6,68.07 524.76,77.81 524.92,68.07 525.07,72.94 525.23,82.69 525.39,77.81 525.54,82.69 525.7,82.69 525.86,77.81 526.01,77.81 526.17,77.81 526.33,87.56 526.48,77.81 526.64,87.56 526.8,87.56 526.95,77.81 527.11,87.56 527.27,82.69 527.42,87.56 527.58,92.43 527.74,77.81 527.89,87.56 528.05,92.43 528.21,102.18 528.36,92.43 528.52,87.56 528.68,92.43 528.84,87.56 528.99,77.81 529.15,97.31 529.31,92.43 529.46,92.43 529.62,87.56 529.78,87.56 529.93,92.43 530.09,92.43 530.25,102.18 530.4,92.43 530.56,97.31 530.72,87.56 530.87,77.81 531.03,87.56 531.19,82.69 531.34,107.05 531.5,92.43 531.66,77.81 531.81,102.18 531.97,92.43 532.13,92.43 532.28,82.69 532.44,107.05 532.6,87.56 532.75,82.69 532.91,77.81 533.07,82.69 533.23,97.31 533.38,102.18 533.54,82.69 533.7,92.43 533.85,107.05 534.01,107.05 534.17,87.56 534.32,97.31 534.48,102.18 534.64,77.81 534.79,97.31 534.95,82.69 535.11,87.56 535.26,97.31 535.42,107.05 535.58,107.05 535.73,102.18 535.89,92.43 536.05,102.18 536.2,97.31 536.36,97.31 536.52,87.56 536.67,102.18 536.83,102.18 536.99,97.31 537.14,87.56 537.3,97.31 537.46,77.81 537.62,92.43 537.77,97.31 537.93,82.69 538.09,97.31 538.24,87.56 538.4,97.31 538.56,97.31 538.71,102.18 538.87,97.31 539.03,97.31 539.18,97.31 539.34,107.05 539.5,92.43 539.65,97.31 539.81,82.69 539.97,97.31 540.12,92.43 540.28,111.92 540.44,107.05 540.59,92.43 540.75,92.43 540.91,87.56 541.06,77.81 541.22,87.56 541.38,82.69 541.53,102.18 541.69,92.43 541.85,102.18 542,97.31 542.16,77.81 542.32,87.56 542.48,87.56 542.63,92.43 542.79,102.18 542.95,102.18 543.1,92.43 543.26,97.31 543.42,87.56 543.57,107.05 543.73,102.18 543.89,92.43 544.04,87.56 544.2,102.18 544.36,102.18 544.51,92.43 544.67,102.18 544.83,92.43 544.98,97.31 545.14,102.18 545.3,102.18 545.45,87.56 545.61,92.43 545.77,87.56 545.92,87.56 546.08,82.69 546.24,82.69 546.39,107.05 546.55,97.31 546.71,97.31 546.87,102.18 547.02,82.69 547.18,97.31 547.34,77.81 547.49,102.18 547.65,87.56 547.81,82.69 547.96,77.81 548.12,77.81 548.28,77.81 548.43,92.43 548.59,82.69 548.75,82.69 548.9,72.94 549.06,82.69 549.22,92.43 549.37,82.69 549.53,82.69 549.69,87.56 549.84,72.94 550,77.81 550.16,82.69 550.31,77.81 550.47,87.56 550.63,68.07 550.79,82.69 550.94,82.69 551.1,68.07 551.26,72.94 551.41,77.81 551.57,77.81 551.73,72.94 551.88,77.81 552.04,77.81 552.2,82.69 552.35,82.69 552.51,77.81 552.67,77.81 552.82,92.43 552.98,63.19 553.14,63.19 553.29,82.69 553.45,72.94 553.61,87.56 553.76,63.19 553.92,82.69 554.08,82.69 554.23,77.81 554.39,68.07 554.55,72.94 554.7,72.94 554.86,72.94 555.02,77.81 555.17,63.19 555.33,63.19 555.49,82.69 555.65,72.94 555.8,72.94 555.96,82.69 556.12,72.94 556.27,77.81 556.43,72.94 556.59,77.81 556.74,82.69 556.9,87.56 557.06,82.69 557.21,82.69 557.37,82.69 557.53,82.69 557.68,82.69 557.84,87.56 558,72.94 558.15,82.69 558.31,77.81 558.47,68.07 558.62,77.81 558.78,77.81 558.94,87.56 559.09,72.94 559.25,82.69 559.41,77.81 559.57,92.43 559.72,77.81 559.88,87.56 560.04,87.56 560.19,92.43 560.35,82.69 560.51,77.81 560.66,92.43 560.82,63.19 560.98,77.81 561.13,72.94 561.29,63.19 561.45,77.81 561.6,72.94 561.76,63.19 561.92,72.94 562.07,82.69 562.23,68.07 562.39,77.81 562.54,72.94 562.7,63.19 562.86,77.81 563.01,77.81 563.17,82.69 563.33,63.19 563.48,87.56 563.64,82.69 563.8,72.94 563.96,72.94 564.11,63.19 564.27,68.07 564.43,77.81 564.58,82.69 564.74,63.19 564.9,58.32 565.05,87.56 565.21,53.45 565.37,72.94 565.52,68.07 565.68,72.94 565.84,63.19 565.99,82.69 566.15,58.32 566.31,68.07 566.46,68.07 566.62,77.81 566.78,72.94 566.93,38.83 567.09,38.83 567.25,63.19 567.4,68.07 567.56,58.32 567.72,58.32 567.87,43.7 568.03,53.45 568.19,53.45 568.35,63.19 568.5,53.45 568.66,58.32 568.82,63.19 568.97,63.19 569.13,68.07 569.29,53.45 569.44,58.32 569.6,48.58 569.76,53.45 569.91,53.45 570.07,58.32 570.23,48.58 570.38,68.07 570.54,33.96 570.7,53.45 570.85,63.19 571.01,63.19 571.17,77.81 571.32,58.32 571.48,58.32 571.64,68.07 571.79,58.32 571.95,53.45 572.11,72.94 572.26,58.32 572.42,63.19 572.58,68.07 572.74,53.45 572.89,38.83 573.05,48.58 573.21,72.94 573.36,53.45 573.52,48.58 573.68,53.45 573.83,63.19 573.99,77.81 574.15,48.58 574.3,63.19 574.46,58.32 574.62,58.32 574.77,63.19 574.93,63.19 575.09,63.19 575.24,53.45 575.4,58.32 575.56,77.81 575.71,68.07 575.87,63.19 576.03,63.19 576.18,87.56 576.34,68.07 576.5,48.58 576.65,43.7 576.81,43.7 576.97,63.19 577.12,72.94 577.28,48.58 577.44,53.45 577.6,68.07 577.75,72.94 577.91,72.94 578.07,72.94 578.22,68.07 578.38,68.07 578.54,68.07 578.69,72.94 578.85,58.32 579.01,82.69 579.16,58.32 579.32,58.32 579.48,58.32 579.63,68.07 579.79,72.94 579.95,63.19 580.1,68.07 580.26,68.07 580.42,63.19 580.57,77.81 580.73,72.94 580.89,87.56 581.04,82.69 581.2,68.07 581.36,58.32 581.51,82.69 581.67,68.07 581.83,63.19 581.99,68.07 582.14,77.81 582.3,97.31 582.46,87.56 582.61,97.31 582.77,77.81 582.93,82.69 583.08,63.19 583.24,72.94 583.4,82.69 583.55,72.94 583.71,72.94 583.87,77.81 584.02,82.69 584.18,82.69 584.34,77.81 584.49,77.81 584.65,97.31 584.81,68.07 584.96,77.81 585.12,82.69 585.28,77.81 585.43,87.56 585.59,82.69 585.75,72.94 585.9,97.31 586.06,87.56 586.22,82.69 586.38,82.69 586.53,97.31 586.69,77.81 586.85,92.43 587,72.94 587.16,77.81 587.32,72.94 587.47,72.94 587.63,72.94 587.79,68.07 587.94,77.81 588.1,82.69" fill="none" stroke="#114b5f" stroke-width="1.35" stroke-linejoin="round" stroke-linecap="round"/>
<line x1="368.6" y1="23.5" x2="368.6" y2="171.15" stroke="#000" stroke-width="1.5"/>
<line x1="367.85" y1="170.4" x2="588.9" y2="170.4" stroke="#000" stroke-width="1.5"/>
<line x1="364" y1="170.4" x2="368.6" y2="170.4" stroke="#000" stroke-width="1.5"/>
<text x="362.3" y="174.46" font-size="12.3" text-anchor="end" fill="#000" stroke="#000" stroke-width="0.3">0</text>
<line x1="364" y1="121.67" x2="368.6" y2="121.67" stroke="#000" stroke-width="1.5"/>
<text x="362.3" y="125.73" font-size="12.3" text-anchor="end" fill="#000" stroke="#000" stroke-width="0.3">10</text>
<line x1="364" y1="72.94" x2="368.6" y2="72.94" stroke="#000" stroke-width="1.5"/>
<text x="362.3" y="77" font-size="12.3" text-anchor="end" fill="#000" stroke="#000" stroke-width="0.3">20</text>
<line x1="364" y1="24.21" x2="368.6" y2="24.21" stroke="#000" stroke-width="1.5"/>
<text x="362.3" y="28.27" font-size="12.3" text-anchor="end" fill="#000" stroke="#000" stroke-width="0.3">30</text>
<line x1="368.6" y1="170.4" x2="368.6" y2="175" stroke="#000" stroke-width="1.5"/>
<text x="368.6" y="187.66" font-size="12.3" text-anchor="middle" fill="#000" stroke="#000" stroke-width="0.3">0</text>
<line x1="412.5" y1="170.4" x2="412.5" y2="175" stroke="#000" stroke-width="1.5"/>
<text x="412.5" y="187.66" font-size="12.3" text-anchor="middle" fill="#000" stroke="#000" stroke-width="0.3">100</text>
<line x1="456.4" y1="170.4" x2="456.4" y2="175" stroke="#000" stroke-width="1.5"/>
<text x="456.4" y="187.66" font-size="12.3" text-anchor="middle" fill="#000" stroke="#000" stroke-width="0.3">200</text>
<line x1="500.3" y1="170.4" x2="500.3" y2="175" stroke="#000" stroke-width="1.5"/>
<text x="500.3" y="187.66" font-size="12.3" text-anchor="middle" fill="#000" stroke="#000" stroke-width="0.3">300</text>
<line x1="544.2" y1="170.4" x2="544.2" y2="175" stroke="#000" stroke-width="1.5"/>
<text x="544.2" y="187.66" font-size="12.3" text-anchor="middle" fill="#000" stroke="#000" stroke-width="0.3">400</text>
<line x1="588.1" y1="170.4" x2="588.1" y2="175" stroke="#000" stroke-width="1.5"/>
<text x="588.1" y="187.66" font-size="12.3" text-anchor="middle" fill="#000" stroke="#000" stroke-width="0.3">500</text>
<text x="478.2" y="206.45" font-size="14.7" text-anchor="middle" fill="#000" stroke="#000" stroke-width="0.35">Time (ns)</text>
<text x="339.5" y="90.5" font-size="14.7" text-anchor="middle" transform="rotate(-90 339.5 90.5)" fill="#000" stroke="#000" stroke-width="0.35">H-bonds</text>
<line x1="602.7" y1="14.9" x2="619.8" y2="14.9" stroke="#114b5f" stroke-width="1.7"/>
<text x="622" y="19.33" font-size="11" text-anchor="start" fill="#000" stroke="#000" stroke-width="0.26">AIF wild type</text>
<line x1="602.7" y1="32.4" x2="619.8" y2="32.4" stroke="#e84545" stroke-width="1.7"/>
<text x="622" y="35.58" font-size="11" text-anchor="start" fill="#000" stroke="#000" stroke-width="0.26">p.R422Q</text>
<line x1="602.7" y1="49.9" x2="619.8" y2="49.9" stroke="#961f25" stroke-width="1.7"/>
<text x="622" y="51.83" font-size="11" text-anchor="start" fill="#000" stroke="#000" stroke-width="0.26">p.423-435del</text>
<!-- Panel C -->
<text x="3.5" y="238.5" font-size="19.5" text-anchor="start" fill="#000" stroke="#000" stroke-width="0.37">C</text>
<line x1="100" y1="282.4" x2="100" y2="301.54" stroke="#000" stroke-width="1.5"/>
<line x1="95.4" y1="282.4" x2="104.6" y2="282.4" stroke="#000" stroke-width="1.5"/>
<rect x="92.05" y="302.29" width="15.9" height="96.11" fill="#114b5f" stroke="#000" stroke-width="1.5"/>
<line x1="123.15" y1="295.16" x2="123.15" y2="307.92" stroke="#000" stroke-width="1.5"/>
<line x1="118.55" y1="295.16" x2="127.75" y2="295.16" stroke="#000" stroke-width="1.5"/>
<rect x="115.35" y="308.67" width="15.6" height="89.73" fill="#114b5f" stroke="#000" stroke-width="1.5"/>
<line x1="146.25" y1="299.22" x2="146.25" y2="311.98" stroke="#000" stroke-width="1.5"/>
<line x1="141.65" y1="299.22" x2="150.85" y2="299.22" stroke="#000" stroke-width="1.5"/>
<rect x="138.45" y="312.73" width="15.6" height="85.67" fill="#114b5f" stroke="#000" stroke-width="1.5"/>
<line x1="172.95" y1="313.72" x2="172.95" y2="341.56" stroke="#000" stroke-width="1.5"/>
<line x1="168.35" y1="313.72" x2="177.55" y2="313.72" stroke="#000" stroke-width="1.5"/>
<rect x="165.15" y="342.31" width="15.6" height="56.09" fill="#e84545" stroke="#000" stroke-width="1.5"/>
<line x1="196.05" y1="315.46" x2="196.05" y2="324.16" stroke="#000" stroke-width="1.5"/>
<line x1="191.45" y1="315.46" x2="200.65" y2="315.46" stroke="#000" stroke-width="1.5"/>
<rect x="188.25" y="324.91" width="15.6" height="73.49" fill="#e84545" stroke="#000" stroke-width="1.5"/>
<line x1="219.35" y1="310.24" x2="219.35" y2="319.52" stroke="#000" stroke-width="1.5"/>
<line x1="214.75" y1="310.24" x2="223.95" y2="310.24" stroke="#000" stroke-width="1.5"/>
<rect x="211.55" y="320.27" width="15.6" height="78.13" fill="#e84545" stroke="#000" stroke-width="1.5"/>
<line x1="245.75" y1="343.88" x2="245.75" y2="357.8" stroke="#000" stroke-width="1.5"/>
<line x1="241.15" y1="343.88" x2="250.35" y2="343.88" stroke="#000" stroke-width="1.5"/>
<rect x="237.95" y="358.55" width="15.6" height="39.85" fill="#961f25" stroke="#000" stroke-width="1.5"/>
<line x1="268.55" y1="375.78" x2="268.55" y2="387.96" stroke="#000" stroke-width="1.5"/>
<line x1="263.95" y1="375.78" x2="273.15" y2="375.78" stroke="#000" stroke-width="1.5"/>
<rect x="260.75" y="388.71" width="15.6" height="9.69" fill="#961f25" stroke="#000" stroke-width="1.5"/>
<line x1="292.45" y1="344.46" x2="292.45" y2="360.12" stroke="#000" stroke-width="1.5"/>
<line x1="287.85" y1="344.46" x2="297.05" y2="344.46" stroke="#000" stroke-width="1.5"/>
<rect x="284.65" y="360.87" width="15.6" height="37.53" fill="#961f25" stroke="#000" stroke-width="1.5"/>
<line x1="88.3" y1="307.92" x2="157" y2="307.92" stroke="#000" stroke-width="1.6" stroke-dasharray="4.3 2.0"/>
<line x1="162" y1="329.38" x2="230.6" y2="329.38" stroke="#000" stroke-width="1.6" stroke-dasharray="4.3 2.0"/>
<line x1="235.3" y1="368.24" x2="302.9" y2="368.24" stroke="#000" stroke-width="1.6" stroke-dasharray="4.3 2.0"/>
<line x1="82.6" y1="252.9" x2="82.6" y2="399.15" stroke="#000" stroke-width="1.5"/>
<line x1="81.85" y1="398.4" x2="308.6" y2="398.4" stroke="#000" stroke-width="1.5"/>
<line x1="78" y1="398.4" x2="82.6" y2="398.4" stroke="#000" stroke-width="1.5"/>
<text x="76.4" y="402.46" font-size="12.3" text-anchor="end" fill="#000" stroke="#000" stroke-width="0.3">0</text>
<line x1="78" y1="369.4" x2="82.6" y2="369.4" stroke="#000" stroke-width="1.5"/>
<text x="76.4" y="373.46" font-size="12.3" text-anchor="end" fill="#000" stroke="#000" stroke-width="0.3">5</text>
<line x1="78" y1="340.4" x2="82.6" y2="340.4" stroke="#000" stroke-width="1.5"/>
<text x="76.4" y="344.46" font-size="12.3" text-anchor="end" fill="#000" stroke="#000" stroke-width="0.3">10</text>
<line x1="78" y1="311.4" x2="82.6" y2="311.4" stroke="#000" stroke-width="1.5"/>
<text x="76.4" y="315.46" font-size="12.3" text-anchor="end" fill="#000" stroke="#000" stroke-width="0.3">15</text>
<line x1="78" y1="282.4" x2="82.6" y2="282.4" stroke="#000" stroke-width="1.5"/>
<text x="76.4" y="286.46" font-size="12.3" text-anchor="end" fill="#000" stroke="#000" stroke-width="0.3">20</text>
<line x1="78" y1="253.4" x2="82.6" y2="253.4" stroke="#000" stroke-width="1.5"/>
<text x="76.4" y="257.46" font-size="12.3" text-anchor="end" fill="#000" stroke="#000" stroke-width="0.3">25</text>
<line x1="100" y1="398.4" x2="100" y2="402.9" stroke="#000" stroke-width="1.5"/>
<line x1="123.15" y1="398.4" x2="123.15" y2="402.9" stroke="#000" stroke-width="1.5"/>
<line x1="146.25" y1="398.4" x2="146.25" y2="402.9" stroke="#000" stroke-width="1.5"/>
<line x1="172.95" y1="398.4" x2="172.95" y2="402.9" stroke="#000" stroke-width="1.5"/>
<line x1="196.05" y1="398.4" x2="196.05" y2="402.9" stroke="#000" stroke-width="1.5"/>
<line x1="219.35" y1="398.4" x2="219.35" y2="402.9" stroke="#000" stroke-width="1.5"/>
<line x1="245.75" y1="398.4" x2="245.75" y2="402.9" stroke="#000" stroke-width="1.5"/>
<line x1="268.55" y1="398.4" x2="268.55" y2="402.9" stroke="#000" stroke-width="1.5"/>
<line x1="292.45" y1="398.4" x2="292.45" y2="402.9" stroke="#000" stroke-width="1.5"/>
<text x="100" y="414.26" font-size="12.3" text-anchor="middle" fill="#000" stroke="#000" stroke-width="0.3">1</text>
<text x="123.15" y="414.26" font-size="12.3" text-anchor="middle" fill="#000" stroke="#000" stroke-width="0.3">2</text>
<text x="146.25" y="414.26" font-size="12.3" text-anchor="middle" fill="#000" stroke="#000" stroke-width="0.3">3</text>
<text x="172.95" y="414.26" font-size="12.3" text-anchor="middle" fill="#000" stroke="#000" stroke-width="0.3">1</text>
<text x="196.05" y="414.26" font-size="12.3" text-anchor="middle" fill="#000" stroke="#000" stroke-width="0.3">2</text>
<text x="219.35" y="414.26" font-size="12.3" text-anchor="middle" fill="#000" stroke="#000" stroke-width="0.3">3</text>
<text x="245.75" y="414.26" font-size="12.3" text-anchor="middle" fill="#000" stroke="#000" stroke-width="0.3">1</text>
<text x="268.55" y="414.26" font-size="12.3" text-anchor="middle" fill="#000" stroke="#000" stroke-width="0.3">2</text>
<text x="292.45" y="414.26" font-size="12.3" text-anchor="middle" fill="#000" stroke="#000" stroke-width="0.3">3</text>
<line x1="94" y1="417.8" x2="150.2" y2="417.8" stroke="#4a4444" stroke-width="1.3"/>
<text x="120.3" y="430.9" font-size="12.2" text-anchor="middle" fill="#000" stroke="#000" stroke-width="0.29">AIF wild type</text>
<line x1="166.8" y1="417.8" x2="224.4" y2="417.8" stroke="#4a4444" stroke-width="1.3"/>
<text x="192.6" y="430.9" font-size="12.2" text-anchor="middle" fill="#000" stroke="#000" stroke-width="0.29">p.R422Q</text>
<line x1="239.4" y1="417.8" x2="296.6" y2="417.8" stroke="#4a4444" stroke-width="1.3"/>
<text x="268" y="430.9" font-size="12.2" text-anchor="middle" fill="#000" stroke="#000" stroke-width="0.29">p.423-435del</text>
<text x="53.9" y="325.5" font-size="14.7" text-anchor="middle" transform="rotate(-90 53.9 325.5)" fill="#000" stroke="#000" stroke-width="0.35">H-bonds</text>
<line x1="124.3" y1="260.8" x2="267.9" y2="260.8" stroke="#5a5252" stroke-width="1.7"/>
<line x1="124.3" y1="277" x2="194.7" y2="277" stroke="#5a5252" stroke-width="1.7"/>
<text x="196.6" y="262" font-size="15" text-anchor="middle" fill="#444" stroke="#444" stroke-width="0.36" letter-spacing="3.0">**</text>
<text x="159.5" y="278.5" font-size="15" text-anchor="middle" fill="#444" stroke="#444" stroke-width="0.36">*</text>
<!-- Panel D -->
<text x="327.4" y="238.5" font-size="19.5" text-anchor="start" fill="#000" stroke="#000" stroke-width="0.37">D</text>
<g clip-path="url(#clipD)">
<rect x="412" y="257.3" width="207.2" height="123.3" fill="url(#dbg)"/>
<rect x="425.7" y="257.3" width="21.6" height="123.3" fill="url(#dlane)" filter="url(#bx2)"/>
<rect x="454.9" y="257.3" width="22.4" height="123.3" fill="url(#dlane)" filter="url(#bx2)"/>
<rect x="487.2" y="257.3" width="22.2" height="123.3" fill="url(#dlane)" filter="url(#bx2)"/>
<rect x="518.5" y="257.3" width="22" height="123.3" fill="url(#dlane)" filter="url(#bx2)"/>
<rect x="548.9" y="257.3" width="22.6" height="123.3" fill="url(#dlane)" filter="url(#bx2)"/>
<rect x="579.8" y="257.3" width="23" height="123.3" fill="url(#dlane)" filter="url(#bx2)"/>
<ellipse cx="436.5" cy="287.2" rx="8.8" ry="9" fill="#000" opacity="0.05" filter="url(#b3)"/>
<rect x="427.7" y="339.2" width="17.6" height="1.6" fill="#555" opacity="0.13" filter="url(#b08)"/>
<rect x="427.7" y="355.2" width="17.6" height="1.6" fill="#555" opacity="0.05" filter="url(#b08)"/>
<rect x="427.7" y="374.2" width="17.6" height="2" fill="#555" opacity="0.08" filter="url(#b08)"/>
<rect x="427.2" y="362.7" width="18.6" height="3" rx="1.5" fill="#444" opacity="0.40" filter="url(#b1)"/>
<rect x="427.3" y="271.7" width="18.4" height="11" rx="3.5" fill="#000" opacity="1" filter="url(#b1)"/>
<ellipse cx="466.1" cy="285.6" rx="9.2" ry="9" fill="#000" opacity="0.05" filter="url(#b3)"/>
<rect x="456.9" y="339" width="18.4" height="1.6" fill="#555" opacity="0.13" filter="url(#b08)"/>
<rect x="456.9" y="355" width="18.4" height="1.6" fill="#555" opacity="0.05" filter="url(#b08)"/>
<rect x="456.9" y="374" width="18.4" height="2" fill="#555" opacity="0.08" filter="url(#b08)"/>
<rect x="456.4" y="362.5" width="19.4" height="3" rx="1.5" fill="#444" opacity="0.40" filter="url(#b1)"/>
<rect x="456.5" y="271.5" width="19.2" height="8.2" rx="3.5" fill="#000" opacity="1" filter="url(#b1)"/>
<ellipse cx="498.3" cy="284.9" rx="9.1" ry="9" fill="#000" opacity="0.05" filter="url(#b3)"/>
<rect x="489.2" y="338" width="18.2" height="1.6" fill="#555" opacity="0.13" filter="url(#b08)"/>
<rect x="489.2" y="354" width="18.2" height="1.6" fill="#555" opacity="0.05" filter="url(#b08)"/>
<rect x="489.2" y="373" width="18.2" height="2" fill="#555" opacity="0.08" filter="url(#b08)"/>
<rect x="488.7" y="361.5" width="19.2" height="3" rx="1.5" fill="#444" opacity="0.40" filter="url(#b1)"/>
<rect x="488.8" y="271.7" width="19" height="6.4" rx="3.2" fill="#000" opacity="0.92" filter="url(#b1)"/>
<ellipse cx="529.5" cy="283.7" rx="9" ry="9" fill="#000" opacity="0.05" filter="url(#b3)"/>
<rect x="520.5" y="337.2" width="18" height="1.6" fill="#555" opacity="0.13" filter="url(#b08)"/>
<rect x="520.5" y="353.2" width="18" height="1.6" fill="#555" opacity="0.05" filter="url(#b08)"/>
<rect x="520.5" y="372.2" width="18" height="2" fill="#555" opacity="0.08" filter="url(#b08)"/>
<rect x="520" y="360.7" width="19" height="3" rx="1.5" fill="#444" opacity="0.40" filter="url(#b1)"/>
<rect x="520.1" y="270.7" width="18.8" height="6" rx="3" fill="#000" opacity="0.94" filter="url(#b1)"/>
<ellipse cx="560.2" cy="283.4" rx="9.3" ry="9" fill="#000" opacity="0.05" filter="url(#b3)"/>
<rect x="550.9" y="337.3" width="18.6" height="1.6" fill="#555" opacity="0.13" filter="url(#b08)"/>
<rect x="550.9" y="353.3" width="18.6" height="1.6" fill="#555" opacity="0.05" filter="url(#b08)"/>
<rect x="550.9" y="372.3" width="18.6" height="2" fill="#555" opacity="0.08" filter="url(#b08)"/>
<rect x="550.4" y="360.8" width="19.6" height="3" rx="1.5" fill="#444" opacity="0.40" filter="url(#b1)"/>
<rect x="550.5" y="269.7" width="19.4" height="7.4" rx="3.5" fill="#000" opacity="1" filter="url(#b1)"/>
<ellipse cx="591.3" cy="283.2" rx="9.5" ry="9" fill="#000" opacity="0.05" filter="url(#b3)"/>
<rect x="581.8" y="335.9" width="19" height="1.6" fill="#555" opacity="0.13" filter="url(#b08)"/>
<rect x="581.8" y="351.9" width="19" height="1.6" fill="#555" opacity="0.05" filter="url(#b08)"/>
<rect x="581.8" y="370.9" width="19" height="2" fill="#555" opacity="0.08" filter="url(#b08)"/>
<rect x="581.3" y="359.4" width="20" height="3" rx="1.5" fill="#444" opacity="0.40" filter="url(#b1)"/>
<rect x="581.4" y="269.3" width="19.8" height="7.8" rx="3.5" fill="#000" opacity="1" filter="url(#b1)"/>
<ellipse cx="498.0" cy="278.0" rx="5.0" ry="1.9" fill="#bbb" opacity="0.6" filter="url(#b1)"/>
<ellipse cx="527.0" cy="276.6" rx="4.2" ry="1.6" fill="#bbb" opacity="0.5" filter="url(#b1)"/>
</g>
<rect x="411.9" y="257.2" width="207.2" height="123.3" fill="none" stroke="#000" stroke-width="1.9"/>
<text x="351" y="279.93" font-size="12.2" text-anchor="start" fill="#000" stroke="#000" stroke-width="0.29">AIF dimer</text>
<text x="335.3" y="368.63" font-size="12.2" text-anchor="start" fill="#000" stroke="#000" stroke-width="0.29">AIF monomer</text>
<text x="622.5" y="276.57" font-size="9.6" text-anchor="start" fill="#000" stroke="#000" stroke-width="0.23">124 KD</text>
<text x="622.5" y="367.37" font-size="9.6" text-anchor="start" fill="#000" stroke="#000" stroke-width="0.23">62 KD</text>
<text x="441.6" y="391.5" font-size="12.3" text-anchor="end" transform="rotate(-45 441.6 391.5)" fill="#000" stroke="#000" stroke-width="0.3">Neuron-C9</text>
<text x="468" y="391.5" font-size="12.3" text-anchor="end" transform="rotate(-45 468 391.5)" fill="#000" stroke="#000" stroke-width="0.3">Neuron-C19</text>
<text x="505.6" y="391.5" font-size="12.3" text-anchor="end" transform="rotate(-45 505.6 391.5)" fill="#000" stroke="#000" stroke-width="0.3">Neuron-C2</text>
<text x="534.4" y="391.5" font-size="12.3" text-anchor="end" transform="rotate(-45 534.4 391.5)" fill="#000" stroke="#000" stroke-width="0.3">Neuron-C14</text>
<text x="570.4" y="391.5" font-size="12.3" text-anchor="end" transform="rotate(-45 570.4 391.5)" fill="#000" stroke="#000" stroke-width="0.3">Neuron-C7</text>
<text x="597.2" y="391.5" font-size="12.3" text-anchor="end" transform="rotate(-45 597.2 391.5)" fill="#000" stroke="#000" stroke-width="0.3">Neuron-C14</text>
<line x1="393.3" y1="438" x2="431.9" y2="438" stroke="#222" stroke-width="1.3"/>
<text x="412.6" y="449.46" font-size="12.3" text-anchor="middle" fill="#000" stroke="#000" stroke-width="0.3">Con</text>
<line x1="465.8" y1="438" x2="504.4" y2="438" stroke="#222" stroke-width="1.3"/>
<text x="485.1" y="449.46" font-size="12.3" text-anchor="middle" fill="#000" stroke="#000" stroke-width="0.3">AN</text>
<line x1="527.2" y1="438" x2="565.7" y2="438" stroke="#222" stroke-width="1.3"/>
<text x="546.45" y="449.46" font-size="12.3" text-anchor="middle" fill="#000" stroke="#000" stroke-width="0.3">CORR</text>
<!-- Panel D' -->
<text x="1.2" y="478" font-size="19.5" text-anchor="start" fill="#000" stroke="#000" stroke-width="0.37">D’</text>
<rect x="95.85" y="581.35" width="20.6" height="40.35" fill="#cfe8ef" stroke="#333" stroke-width="1.7"/>
<rect x="125.15" y="564.02" width="20.6" height="57.68" fill="#cfe8ef" stroke="#333" stroke-width="1.7"/>
<rect x="158.85" y="601.15" width="20.7" height="20.55" fill="#f3c6df" stroke="#333" stroke-width="1.7"/>
<rect x="188.75" y="588.39" width="21" height="33.31" fill="#f3c6df" stroke="#333" stroke-width="1.7"/>
<rect x="222.75" y="559.75" width="20.6" height="61.95" fill="#90c6c5" stroke="#333" stroke-width="1.7"/>
<rect x="252.55" y="556.74" width="20.6" height="64.96" fill="#90c6c5" stroke="#333" stroke-width="1.7"/>
<line x1="106.15" y1="573.97" x2="106.15" y2="587.03" stroke="#1a1a1a" stroke-width="1.5"/>
<line x1="100.15" y1="573.97" x2="112.15" y2="573.97" stroke="#1a1a1a" stroke-width="1.5"/>
<line x1="100.15" y1="587.03" x2="112.15" y2="587.03" stroke="#1a1a1a" stroke-width="1.5"/>
<circle cx="106.15" cy="561.41" r="2.1" fill="#000"/>
<circle cx="109.75" cy="588.54" r="2.1" fill="#000"/>
<circle cx="103.55" cy="593.57" r="2.1" fill="#000"/>
<circle cx="106.15" cy="586.03" r="2.1" fill="#000"/>
<circle cx="106.15" cy="574.47" r="2.1" fill="#000"/>
<line x1="135.45" y1="557.9" x2="135.45" y2="568.45" stroke="#1a1a1a" stroke-width="1.5"/>
<line x1="129.45" y1="557.9" x2="141.45" y2="557.9" stroke="#1a1a1a" stroke-width="1.5"/>
<line x1="129.45" y1="568.45" x2="141.45" y2="568.45" stroke="#1a1a1a" stroke-width="1.5"/>
<circle cx="135.45" cy="548.85" r="2.1" fill="#000"/>
<circle cx="138.65" cy="553.37" r="2.1" fill="#000"/>
<circle cx="132.05" cy="560.41" r="2.1" fill="#000"/>
<circle cx="138.65" cy="571.46" r="2.1" fill="#000"/>
<circle cx="135.45" cy="581.51" r="2.1" fill="#000"/>
<circle cx="131.45" cy="569.45" r="2.1" fill="#000"/>
<line x1="169.2" y1="597.28" x2="169.2" y2="603.31" stroke="#1a1a1a" stroke-width="1.5"/>
<line x1="163.2" y1="597.28" x2="175.2" y2="597.28" stroke="#1a1a1a" stroke-width="1.5"/>
<line x1="163.2" y1="603.31" x2="175.2" y2="603.31" stroke="#1a1a1a" stroke-width="1.5"/>
<circle cx="166.6" cy="594.07" r="2.1" fill="#000"/>
<circle cx="172.8" cy="601.1" r="2.1" fill="#000"/>
<circle cx="167" cy="604.12" r="2.1" fill="#000"/>
<circle cx="169.8" cy="602.61" r="2.1" fill="#000"/>
<circle cx="170.4" cy="598.09" r="2.1" fill="#000"/>
<line x1="199.25" y1="583.27" x2="199.25" y2="591.81" stroke="#1a1a1a" stroke-width="1.5"/>
<line x1="193.25" y1="583.27" x2="205.25" y2="583.27" stroke="#1a1a1a" stroke-width="1.5"/>
<line x1="193.25" y1="591.81" x2="205.25" y2="591.81" stroke="#1a1a1a" stroke-width="1.5"/>
<circle cx="199.25" cy="573.97" r="2.1" fill="#000"/>
<circle cx="199.75" cy="580.5" r="2.1" fill="#000"/>
<circle cx="197.25" cy="588.04" r="2.1" fill="#000"/>
<circle cx="201.25" cy="587.03" r="2.1" fill="#000"/>
<circle cx="198.45" cy="594.07" r="2.1" fill="#000"/>
<circle cx="199.25" cy="606.13" r="2.1" fill="#000"/>
<circle cx="199.75" cy="584.52" r="2.1" fill="#000"/>
<line x1="233.05" y1="549.86" x2="233.05" y2="567.94" stroke="#1a1a1a" stroke-width="1.5"/>
<line x1="227.05" y1="549.86" x2="239.05" y2="549.86" stroke="#1a1a1a" stroke-width="1.5"/>
<line x1="227.05" y1="567.94" x2="239.05" y2="567.94" stroke="#1a1a1a" stroke-width="1.5"/>
<circle cx="233.05" cy="522.22" r="2.1" fill="#000"/>
<circle cx="233.05" cy="542.82" r="2.1" fill="#000"/>
<circle cx="233.05" cy="563.42" r="2.1" fill="#000"/>
<circle cx="230.05" cy="569.95" r="2.1" fill="#000"/>
<circle cx="235.85" cy="570.46" r="2.1" fill="#000"/>
<circle cx="233.05" cy="586.53" r="2.1" fill="#000"/>
<circle cx="232.55" cy="566.44" r="2.1" fill="#000"/>
<line x1="262.85" y1="544.58" x2="262.85" y2="567.19" stroke="#1a1a1a" stroke-width="1.5"/>
<line x1="256.85" y1="544.58" x2="268.85" y2="544.58" stroke="#1a1a1a" stroke-width="1.5"/>
<line x1="256.85" y1="567.19" x2="268.85" y2="567.19" stroke="#1a1a1a" stroke-width="1.5"/>
<circle cx="262.85" cy="519.71" r="2.1" fill="#000"/>
<circle cx="262.85" cy="539.81" r="2.1" fill="#000"/>
<circle cx="262.85" cy="550.86" r="2.1" fill="#000"/>
<circle cx="262.85" cy="557.39" r="2.1" fill="#000"/>
<circle cx="262.85" cy="603.11" r="2.1" fill="#000"/>
<circle cx="262.35" cy="565.43" r="2.1" fill="#000"/>
<line x1="94" y1="571.46" x2="150.3" y2="571.46" stroke="#000" stroke-width="1.5" stroke-dasharray="4.3 2.0"/>
<line x1="156.9" y1="593.92" x2="212.7" y2="593.92" stroke="#000" stroke-width="1.5" stroke-dasharray="4.3 2.0"/>
<line x1="219.4" y1="557.39" x2="275.2" y2="557.39" stroke="#000" stroke-width="1.5" stroke-dasharray="4.3 2.0"/>
<line x1="90.3" y1="495.4" x2="90.3" y2="622.45" stroke="#000" stroke-width="1.5"/>
<line x1="89.55" y1="621.7" x2="281.4" y2="621.7" stroke="#000" stroke-width="1.5"/>
<line x1="85.7" y1="621.7" x2="90.3" y2="621.7" stroke="#000" stroke-width="1.5"/>
<text x="83.3" y="625.76" font-size="12.3" text-anchor="end" fill="#000" stroke="#000" stroke-width="0.3">0</text>
<line x1="85.7" y1="596.58" x2="90.3" y2="596.58" stroke="#000" stroke-width="1.5"/>
<text x="83.3" y="600.64" font-size="12.3" text-anchor="end" fill="#000" stroke="#000" stroke-width="0.3">50</text>
<line x1="85.7" y1="571.46" x2="90.3" y2="571.46" stroke="#000" stroke-width="1.5"/>
<text x="83.3" y="575.52" font-size="12.3" text-anchor="end" fill="#000" stroke="#000" stroke-width="0.3">100</text>
<line x1="85.7" y1="546.34" x2="90.3" y2="546.34" stroke="#000" stroke-width="1.5"/>
<text x="83.3" y="550.4" font-size="12.3" text-anchor="end" fill="#000" stroke="#000" stroke-width="0.3">150</text>
<line x1="85.7" y1="521.22" x2="90.3" y2="521.22" stroke="#000" stroke-width="1.5"/>
<text x="83.3" y="525.28" font-size="12.3" text-anchor="end" fill="#000" stroke="#000" stroke-width="0.3">200</text>
<line x1="85.7" y1="496.1" x2="90.3" y2="496.1" stroke="#000" stroke-width="1.5"/>
<text x="83.3" y="500.16" font-size="12.3" text-anchor="end" fill="#000" stroke="#000" stroke-width="0.3">250</text>
<line x1="106.15" y1="621.7" x2="106.15" y2="626.2" stroke="#000" stroke-width="1.5"/>
<line x1="135.45" y1="621.7" x2="135.45" y2="626.2" stroke="#000" stroke-width="1.5"/>
<line x1="169.2" y1="621.7" x2="169.2" y2="626.2" stroke="#000" stroke-width="1.5"/>
<line x1="199.25" y1="621.7" x2="199.25" y2="626.2" stroke="#000" stroke-width="1.5"/>
<line x1="233.05" y1="621.7" x2="233.05" y2="626.2" stroke="#000" stroke-width="1.5"/>
<line x1="262.85" y1="621.7" x2="262.85" y2="626.2" stroke="#000" stroke-width="1.5"/>
<text x="51.2" y="555.6" font-size="14.7" text-anchor="middle" transform="rotate(-90 51.2 555.6)" fill="#000" stroke="#000" stroke-width="0.35">AIF Dimer / AIF Monomer (%)</text>
<line x1="123" y1="497.9" x2="178.5" y2="497.9" stroke="#1c1c1c" stroke-width="1.8"/>
<line x1="190.4" y1="497.9" x2="246" y2="497.9" stroke="#1c1c1c" stroke-width="1.8"/>
<text x="152.4" y="500.2" font-size="15" text-anchor="middle" fill="#333" stroke="#333" stroke-width="0.36" letter-spacing="3.8">**</text>
<text x="219.7" y="500.2" font-size="15" text-anchor="middle" fill="#333" stroke="#333" stroke-width="0.36" letter-spacing="3.4">***</text>
<text x="111.6" y="633.5" font-size="12.3" text-anchor="end" transform="rotate(-45 111.6 633.5)" fill="#000" stroke="#000" stroke-width="0.3">Neuron-C9</text>
<text x="138" y="633.5" font-size="12.3" text-anchor="end" transform="rotate(-45 138 633.5)" fill="#000" stroke="#000" stroke-width="0.3">Neuron-C19</text>
<text x="172.6" y="633.5" font-size="12.3" text-anchor="end" transform="rotate(-45 172.6 633.5)" fill="#000" stroke="#000" stroke-width="0.3">Neuron-C2</text>
<text x="202.2" y="633.5" font-size="12.3" text-anchor="end" transform="rotate(-45 202.2 633.5)" fill="#000" stroke="#000" stroke-width="0.3">Neuron-C14</text>
<text x="237.1" y="633.5" font-size="12.3" text-anchor="end" transform="rotate(-45 237.1 633.5)" fill="#000" stroke="#000" stroke-width="0.3">Neuron-C7</text>
<text x="264.8" y="633.5" font-size="12.3" text-anchor="end" transform="rotate(-45 264.8 633.5)" fill="#000" stroke="#000" stroke-width="0.3">Neuron-C14</text>
<line x1="61.5" y1="678.9" x2="103.7" y2="678.9" stroke="#222" stroke-width="1.3"/>
<text x="82.6" y="693.36" font-size="12.3" text-anchor="middle" fill="#000" stroke="#000" stroke-width="0.3">Con</text>
<line x1="123.8" y1="678.9" x2="166" y2="678.9" stroke="#222" stroke-width="1.3"/>
<text x="144.9" y="693.36" font-size="12.3" text-anchor="middle" fill="#000" stroke="#000" stroke-width="0.3">AN</text>
<line x1="186.9" y1="678.9" x2="228.3" y2="678.9" stroke="#222" stroke-width="1.3"/>
<text x="207.6" y="693.36" font-size="12.3" text-anchor="middle" fill="#000" stroke="#000" stroke-width="0.3">CORR</text>
<!-- Panel E -->
<text x="327.9" y="478.2" font-size="19.5" text-anchor="start" fill="#000" stroke="#000" stroke-width="0.37">E</text>
<clipPath id="clipE0"><rect x="459.65" y="540.45" width="129.7" height="27.4"/></clipPath>
<g clip-path="url(#clipE0)">
<rect x="459.65" y="540.45" width="129.7" height="27.4" fill="#f6f6f6"/>
<rect x="473.6" y="553.3" width="16" height="2.4" rx="1.2" fill="#000" opacity="0.06" filter="url(#b15)"/>
<rect x="500.45" y="547.3" width="22.5" height="17.2" rx="3.2" fill="#000" opacity="0.17" filter="url(#b2)"/>
<rect x="502.45" y="546.5" width="18.5" height="2" rx="1" fill="#000" opacity="0.74" filter="url(#b08)"/>
<rect x="502.7" y="560.5" width="18" height="2.4" rx="1.2" fill="#000" opacity="0.24" filter="url(#b1)"/>
<rect x="501.2" y="550.6" width="21" height="8.2" rx="3.2" fill="#000" opacity="1" filter="url(#b1)"/>
<rect x="528.65" y="547.9" width="21.9" height="16.2" rx="3.2" fill="#000" opacity="0.17" filter="url(#b2)"/>
<rect x="530.65" y="546.6" width="17.9" height="2" rx="1" fill="#000" opacity="0.74" filter="url(#b08)"/>
<rect x="530.9" y="560.6" width="17.4" height="2.4" rx="1.2" fill="#000" opacity="0.24" filter="url(#b1)"/>
<rect x="529.4" y="551.2" width="20.4" height="7.2" rx="3.2" fill="#000" opacity="1" filter="url(#b1)"/>
<rect x="557.45" y="549.3" width="22.7" height="15.8" rx="3.2" fill="#000" opacity="0.17" filter="url(#b2)"/>
<rect x="559.45" y="547.8" width="18.7" height="2" rx="1" fill="#000" opacity="0.74" filter="url(#b08)"/>
<rect x="559.7" y="561.8" width="18.2" height="2.4" rx="1.2" fill="#000" opacity="0.24" filter="url(#b1)"/>
<rect x="558.2" y="552.6" width="21.2" height="6.8" rx="3.2" fill="#000" opacity="1" filter="url(#b1)"/>
</g>
<rect x="459.65" y="540.45" width="129.7" height="27.4" fill="none" stroke="#000" stroke-width="1.9"/>
<clipPath id="clipE1"><rect x="459.65" y="573.35" width="129.7" height="27.9"/></clipPath>
<g clip-path="url(#clipE1)">
<rect x="459.65" y="573.35" width="129.7" height="27.9" fill="#f6f6f6"/>
<rect x="471.1" y="587.5" width="21" height="2.2" rx="1.1" fill="#000" opacity="0.26" filter="url(#b1)"/>
<rect x="499.7" y="580.3" width="24" height="17" rx="3.2" fill="#000" opacity="0.12" filter="url(#b2)"/>
<rect x="503.2" y="577.5" width="17" height="2.2" rx="1.1" fill="#000" opacity="0.42" filter="url(#b1)"/>
<rect x="501" y="584.3" width="21.4" height="8.6" rx="3.2" fill="#000" opacity="1" filter="url(#b1)"/>
<rect x="531.6" y="578.2" width="16" height="1.6" rx="0.8" fill="#000" opacity="0.13" filter="url(#b1)"/>
<rect x="528.6" y="584.1" width="22" height="9" rx="3.2" fill="#000" opacity="0.1" filter="url(#b2)"/>
<rect x="529.3" y="586.2" width="20.6" height="4" rx="2" fill="#000" opacity="0.88" filter="url(#b1)"/>
<rect x="530.6" y="591.6" width="18" height="1.6" rx="0.8" fill="#000" opacity="0.18" filter="url(#b1)"/>
<rect x="560.8" y="579.4" width="16" height="1.6" rx="0.8" fill="#000" opacity="0.1" filter="url(#b1)"/>
<rect x="557.8" y="586.1" width="22" height="9" rx="3.2" fill="#000" opacity="0.1" filter="url(#b2)"/>
<rect x="558.8" y="588.5" width="20" height="3.8" rx="1.9" fill="#000" opacity="0.72" filter="url(#b1)"/>
</g>
<rect x="459.65" y="573.35" width="129.7" height="27.9" fill="none" stroke="#000" stroke-width="1.9"/>
<clipPath id="clipE2"><rect x="459.65" y="609.85" width="129.7" height="25.7"/></clipPath>
<g clip-path="url(#clipE2)">
<rect x="459.65" y="609.85" width="129.7" height="25.7" fill="#f6f6f6"/>
<rect x="473.6" y="621.9" width="16" height="2.2" rx="1.1" fill="#000" opacity="0.05" filter="url(#b15)"/>
<rect x="499.5" y="616" width="24.4" height="13.6" rx="3.2" fill="#000" opacity="0.13" filter="url(#b2)"/>
<rect x="502" y="615.95" width="19.4" height="1.7" rx="0.85" fill="#000" opacity="0.42" filter="url(#b08)"/>
<rect x="500.5" y="619.5" width="22.4" height="6.6" rx="3.2" fill="#000" opacity="1" filter="url(#b1)"/>
<rect x="527.6" y="616.7" width="24" height="11.8" rx="3.2" fill="#000" opacity="0.13" filter="url(#b2)"/>
<rect x="530.1" y="615.75" width="19" height="1.7" rx="0.85" fill="#000" opacity="0.3" filter="url(#b08)"/>
<rect x="528.6" y="620.2" width="22" height="4.8" rx="2.4" fill="#000" opacity="1" filter="url(#b1)"/>
<rect x="556.5" y="617.9" width="24.6" height="11.2" rx="3.2" fill="#000" opacity="0.13" filter="url(#b2)"/>
<rect x="559" y="616.65" width="19.6" height="1.7" rx="0.85" fill="#000" opacity="0.22" filter="url(#b08)"/>
<rect x="557.5" y="621.4" width="22.6" height="4.2" rx="2.1" fill="#000" opacity="0.92" filter="url(#b1)"/>
</g>
<rect x="459.65" y="609.85" width="129.7" height="25.7" fill="none" stroke="#000" stroke-width="1.9"/>
<clipPath id="clipE3"><rect x="459.65" y="641.75" width="129.7" height="27.3"/></clipPath>
<g clip-path="url(#clipE3)">
<rect x="459.65" y="641.75" width="129.7" height="27.3" fill="#f6f6f6"/>
<rect x="471" y="647.05" width="26" height="15" rx="3.2" fill="#000" opacity="0.14" filter="url(#b2)"/>
<rect x="473.25" y="650.3" width="21.5" height="2.2" rx="1.1" fill="#000" opacity="0.82" filter="url(#b08)"/>
<rect x="472" y="654.5" width="24" height="4.4" rx="2.2" fill="#000" opacity="1" filter="url(#b1)"/>
<rect x="498.3" y="647.1" width="26" height="15" rx="3.2" fill="#000" opacity="0.14" filter="url(#b2)"/>
<rect x="500.55" y="650.3" width="21.5" height="2.2" rx="1.1" fill="#000" opacity="0.82" filter="url(#b08)"/>
<rect x="499.3" y="654.6" width="24" height="4.4" rx="2.2" fill="#000" opacity="1" filter="url(#b1)"/>
<rect x="526.8" y="647.8" width="25" height="15" rx="3.2" fill="#000" opacity="0.14" filter="url(#b2)"/>
<rect x="529.05" y="651.3" width="20.5" height="2.2" rx="1.1" fill="#000" opacity="0.82" filter="url(#b08)"/>
<rect x="527.8" y="655.1" width="23" height="4.2" rx="2.1" fill="#000" opacity="1" filter="url(#b1)"/>
<rect x="530.3" y="661.8" width="18" height="1.6" rx="0.8" fill="#000" opacity="0.14" filter="url(#b1)"/>
<rect x="554.4" y="648.65" width="28" height="15" rx="3.2" fill="#000" opacity="0.14" filter="url(#b2)"/>
<rect x="556.65" y="651.6" width="23.5" height="2.2" rx="1.1" fill="#000" opacity="0.82" filter="url(#b08)"/>
<rect x="555.4" y="655.9" width="26" height="5.4" rx="2.7" fill="#000" opacity="1" filter="url(#b1)"/>
<rect x="557.9" y="663.2" width="21" height="1.6" rx="0.8" fill="#000" opacity="0.3" filter="url(#b1)"/>
</g>
<rect x="459.65" y="641.75" width="129.7" height="27.3" fill="none" stroke="#000" stroke-width="1.9"/>
<text x="455.6" y="511.43" font-size="12.2" text-anchor="end" fill="#000" stroke="#000" stroke-width="0.29">AIF-3×Flag</text>
<text x="455.6" y="533.43" font-size="12.2" text-anchor="end" fill="#000" stroke="#000" stroke-width="0.29">AIF-3×HA</text>
<text x="476.8" y="511.03" font-size="12.2" text-anchor="middle" font-weight="bold" fill="#000" stroke="#000" stroke-width="0.29">-</text>
<text x="501.8" y="510.43" font-size="12.2" text-anchor="middle" fill="#000" stroke="#000" stroke-width="0.29">WT</text>
<text x="536.5" y="510.43" font-size="12.2" text-anchor="middle" fill="#000" stroke="#000" stroke-width="0.29">p.R422Q</text>
<text x="595" y="510.43" font-size="12.2" text-anchor="middle" fill="#000" stroke="#000" stroke-width="0.29">p.423-435del</text>
<text x="476.3" y="534.23" font-size="12.2" text-anchor="middle" fill="#000" stroke="#000" stroke-width="0.29">WT</text>
<text x="501.8" y="534.23" font-size="12.2" text-anchor="middle" fill="#000" stroke="#000" stroke-width="0.29">WT</text>
<text x="536.5" y="534.23" font-size="12.2" text-anchor="middle" fill="#000" stroke="#000" stroke-width="0.29">p.R422Q</text>
<text x="595" y="534.23" font-size="12.2" text-anchor="middle" fill="#000" stroke="#000" stroke-width="0.29">p.423-435del</text>
<text x="455.6" y="558.43" font-size="12.2" text-anchor="end" fill="#000" stroke="#000" stroke-width="0.29">IB: Flag (AIF)</text>
<text x="455.6" y="593.83" font-size="12.2" text-anchor="end" fill="#000" stroke="#000" stroke-width="0.29">IB: HA (AIF)</text>
<text x="455.6" y="627.53" font-size="12.2" text-anchor="end" fill="#000" stroke="#000" stroke-width="0.29">IB: Flag (AIF)</text>
<text x="455.6" y="660.03" font-size="12.2" text-anchor="end" fill="#000" stroke="#000" stroke-width="0.29">IB: HA (AIF)</text>
<text x="376.2" y="574.23" font-size="12.2" text-anchor="end" fill="#000" stroke="#000" stroke-width="0.29">IP: Flag</text>
<text x="376.2" y="643.63" font-size="12.2" text-anchor="end" fill="#000" stroke="#000" stroke-width="0.29">Input</text>
<line x1="381.2" y1="551.2" x2="381.2" y2="588.7" stroke="#000" stroke-width="2.3"/>
<line x1="381.2" y1="621.2" x2="381.2" y2="657.1" stroke="#000" stroke-width="2.3"/>
<text x="592.8" y="560.93" font-size="9.5" text-anchor="start" fill="#000" stroke="#000" stroke-width="0.23">63 KD</text>
<text x="592.8" y="592.13" font-size="9.5" text-anchor="start" fill="#000" stroke="#000" stroke-width="0.23">63 KD</text>
<text x="592.8" y="630.53" font-size="9.5" text-anchor="start" fill="#000" stroke="#000" stroke-width="0.23">63 KD</text>
<text x="592.8" y="658.63" font-size="9.5" text-anchor="start" fill="#000" stroke="#000" stroke-width="0.23">63 KD</text>
<!-- Panel F -->
<text x="1" y="723" font-size="19.5" text-anchor="start" fill="#000" stroke="#000" stroke-width="0.37">F</text>
<clipPath id="clipF0"><rect x="78.9" y="735.2" width="168.4" height="146.1"/></clipPath>
<linearGradient id="gF1" gradientUnits="userSpaceOnUse" x1="0" y1="735.2" x2="0" y2="881.3">
<stop offset="-0" stop-color="#000" stop-opacity="0"/>
<stop offset="0.09" stop-color="#000" stop-opacity="0"/>
<stop offset="0.17" stop-color="#000" stop-opacity="0.06"/>
<stop offset="0.38" stop-color="#000" stop-opacity="0.07"/>
<stop offset="0.59" stop-color="#000" stop-opacity="0.09"/>
<stop offset="0.66" stop-color="#000" stop-opacity="0.25"/>
<stop offset="0.7" stop-color="#000" stop-opacity="0.55"/>
<stop offset="0.76" stop-color="#000" stop-opacity="0.66"/>
<stop offset="0.81" stop-color="#000" stop-opacity="0.74"/>
<stop offset="0.87" stop-color="#000" stop-opacity="0.72"/>
<stop offset="0.91" stop-color="#000" stop-opacity="0.62"/>
<stop offset="0.94" stop-color="#000" stop-opacity="0.45"/>
<stop offset="0.96" stop-color="#000" stop-opacity="0.22"/>
<stop offset="1" stop-color="#000" stop-opacity="0.07"/>
</linearGradient>
<g clip-path="url(#clipF0)">
<rect x="78.9" y="735.2" width="168.4" height="146.1" fill="#fbfbfb"/>
<rect x="140" y="725.2" width="130" height="166.1" fill="#000" opacity="0.012" filter="url(#b6)"/>
<rect x="99.9" y="837.5" width="23" height="18" rx="3.2" fill="#000" opacity="0.17" filter="url(#b2)"/>
<rect x="101.45" y="839.6" width="19.5" height="4.8" rx="2.4" fill="#000" opacity="0.5" filter="url(#b15)"/>
<rect x="100.6" y="851.1" width="21.6" height="6.6" rx="3.2" fill="#000" opacity="1" filter="url(#b1)"/>
<rect x="112" y="851.4" width="9" height="7.2" rx="3.2" fill="#000" opacity="0.6" filter="url(#b1)"/>
<rect x="130.35" y="735.2" width="17.5" height="146.1" fill="url(#gF1)" filter="url(#bx3)"/>
<ellipse cx="139.1" cy="843.5" rx="8.75" ry="5.5" fill="#000" opacity="0.4" filter="url(#b2)"/>
<ellipse cx="139.1" cy="850.5" rx="8.75" ry="4" fill="#000" opacity="0.35" filter="url(#b2)"/>
<ellipse cx="139.1" cy="856.8" rx="9.85" ry="4.2" fill="#000" opacity="0.82" filter="url(#b2)"/>
<ellipse cx="139.1" cy="856.8" rx="6.75" ry="2.6" fill="#000" opacity="0.6" filter="url(#b15)"/>
<rect x="159" y="735.2" width="18" height="146.1" fill="url(#gF1)" filter="url(#bx3)"/>
<ellipse cx="168" cy="779.5" rx="10.5" ry="8.5" fill="#000" opacity="0.21" filter="url(#b4)"/>
<ellipse cx="168" cy="778" rx="9" ry="3.4" fill="#000" opacity="0.08" filter="url(#b2)"/>
<ellipse cx="168" cy="791.5" rx="10" ry="12" fill="#000" opacity="0.09" filter="url(#b4)"/>
<ellipse cx="168" cy="763.5" rx="9.5" ry="9" fill="#000" opacity="0.04" filter="url(#b4)"/>
<ellipse cx="168" cy="843.5" rx="9" ry="5.5" fill="#000" opacity="0.4" filter="url(#b2)"/>
<ellipse cx="168" cy="850.5" rx="9" ry="4" fill="#000" opacity="0.35" filter="url(#b2)"/>
<ellipse cx="168" cy="856.8" rx="10.1" ry="4.2" fill="#000" opacity="0.82" filter="url(#b2)"/>
<ellipse cx="168" cy="856.8" rx="7" ry="2.6" fill="#000" opacity="0.6" filter="url(#b15)"/>
<rect x="187.3" y="735.2" width="18.6" height="146.1" fill="url(#gF1)" filter="url(#bx3)"/>
<ellipse cx="196.6" cy="775.6" rx="10.8" ry="8.5" fill="#000" opacity="0.28" filter="url(#b4)"/>
<ellipse cx="196.6" cy="774.1" rx="9.3" ry="3.4" fill="#000" opacity="0.1" filter="url(#b2)"/>
<ellipse cx="196.6" cy="787.6" rx="10.3" ry="12" fill="#000" opacity="0.12" filter="url(#b4)"/>
<ellipse cx="196.6" cy="759.6" rx="9.8" ry="9" fill="#000" opacity="0.06" filter="url(#b4)"/>
<ellipse cx="196.6" cy="843.5" rx="9.3" ry="5.5" fill="#000" opacity="0.4" filter="url(#b2)"/>
<ellipse cx="196.6" cy="850.5" rx="9.3" ry="4" fill="#000" opacity="0.35" filter="url(#b2)"/>
<ellipse cx="196.6" cy="856.8" rx="10.4" ry="4.2" fill="#000" opacity="0.82" filter="url(#b2)"/>
<ellipse cx="196.6" cy="856.8" rx="7.3" ry="2.6" fill="#000" opacity="0.6" filter="url(#b15)"/>
<rect x="216.2" y="735.2" width="19" height="146.1" fill="url(#gF1)" filter="url(#bx3)"/>
<ellipse cx="225.7" cy="774" rx="11" ry="8.5" fill="#000" opacity="0.35" filter="url(#b4)"/>
<ellipse cx="225.7" cy="772.5" rx="9.5" ry="3.4" fill="#000" opacity="0.13" filter="url(#b2)"/>
<ellipse cx="225.7" cy="786" rx="10.5" ry="12" fill="#000" opacity="0.15" filter="url(#b4)"/>
<ellipse cx="225.7" cy="758" rx="10" ry="9" fill="#000" opacity="0.07" filter="url(#b4)"/>
<ellipse cx="225.7" cy="843.5" rx="9.5" ry="5.5" fill="#000" opacity="0.4" filter="url(#b2)"/>
<ellipse cx="225.7" cy="850.5" rx="9.5" ry="4" fill="#000" opacity="0.35" filter="url(#b2)"/>
<ellipse cx="225.7" cy="856.8" rx="10.6" ry="4.2" fill="#000" opacity="0.82" filter="url(#b2)"/>
<ellipse cx="225.7" cy="856.8" rx="7.5" ry="2.6" fill="#000" opacity="0.6" filter="url(#b15)"/>
</g>
<rect x="78.9" y="735.2" width="168.4" height="146.1" fill="none" stroke="#000" stroke-width="1.8"/>
<clipPath id="clipF1"><rect x="267.9" y="735.2" width="168.6" height="146.1"/></clipPath>
<linearGradient id="gF2" gradientUnits="userSpaceOnUse" x1="0" y1="735.2" x2="0" y2="881.3">
<stop offset="-0" stop-color="#000" stop-opacity="0.08"/>
<stop offset="0.07" stop-color="#000" stop-opacity="0.1"/>
<stop offset="0.2" stop-color="#000" stop-opacity="0.07"/>
<stop offset="0.44" stop-color="#000" stop-opacity="0.07"/>
<stop offset="0.59" stop-color="#000" stop-opacity="0.09"/>
<stop offset="0.66" stop-color="#000" stop-opacity="0.25"/>
<stop offset="0.7" stop-color="#000" stop-opacity="0.58"/>
<stop offset="0.74" stop-color="#000" stop-opacity="0.7"/>
<stop offset="0.8" stop-color="#000" stop-opacity="0.72"/>
<stop offset="0.85" stop-color="#000" stop-opacity="0.74"/>
<stop offset="0.9" stop-color="#000" stop-opacity="0.68"/>
<stop offset="0.93" stop-color="#000" stop-opacity="0.55"/>
<stop offset="0.96" stop-color="#000" stop-opacity="0.32"/>
<stop offset="0.98" stop-color="#000" stop-opacity="0.15"/>
<stop offset="1" stop-color="#000" stop-opacity="0.06"/>
</linearGradient>
<g clip-path="url(#clipF1)">
<rect x="267.9" y="735.2" width="168.6" height="146.1" fill="#f8f8f8"/>
<rect x="320" y="725.2" width="140" height="166.1" fill="#000" opacity="0.028" filter="url(#b6)"/>
<rect x="275.7" y="838.5" width="27" height="25" rx="3.2" fill="#000" opacity="0.2" filter="url(#b2)"/>
<rect x="277.7" y="840.3" width="23" height="6.6" rx="3.2" fill="#000" opacity="0.62" filter="url(#b15)"/>
<rect x="276.7" y="854.1" width="25" height="9.4" rx="3.2" fill="#000" opacity="1" filter="url(#b15)"/>
<rect x="310" y="735.2" width="21" height="146.1" fill="url(#gF2)" filter="url(#bx3)"/>
<ellipse cx="320.5" cy="752" rx="10" ry="16" fill="#000" opacity="0.13" filter="url(#b4)"/>
<ellipse cx="320.5" cy="853" rx="10.5" ry="4" fill="#000" opacity="0.48" filter="url(#b2)"/>
<ellipse cx="320.5" cy="845.8" rx="11.3" ry="4" fill="#000" opacity="0.8" filter="url(#b2)"/>
<ellipse cx="320.5" cy="860.4" rx="11.6" ry="4" fill="#000" opacity="0.9" filter="url(#b2)"/>
<ellipse cx="320.5" cy="860.4" rx="8" ry="2.4" fill="#000" opacity="0.54" filter="url(#b15)"/>
<rect x="341.5" y="735.2" width="21" height="146.1" fill="url(#gF2)" filter="url(#bx3)"/>
<ellipse cx="352" cy="853" rx="10.5" ry="4" fill="#000" opacity="0.4" filter="url(#b2)"/>
<ellipse cx="352" cy="845.8" rx="11.3" ry="4" fill="#000" opacity="0.66" filter="url(#b2)"/>
<ellipse cx="352" cy="860.4" rx="11.6" ry="4" fill="#000" opacity="0.8" filter="url(#b2)"/>
<ellipse cx="352" cy="860.4" rx="8" ry="2.4" fill="#000" opacity="0.48" filter="url(#b15)"/>
<rect x="373" y="735.2" width="21" height="146.1" fill="url(#gF2)" filter="url(#bx3)"/>
<ellipse cx="383.5" cy="752" rx="10" ry="16" fill="#000" opacity="0.02" filter="url(#b4)"/>
<ellipse cx="383.5" cy="775.5" rx="12" ry="8.5" fill="#000" opacity="0.13" filter="url(#b4)"/>
<ellipse cx="383.5" cy="774" rx="10.5" ry="3.6" fill="#000" opacity="0.05" filter="url(#b2)"/>
<ellipse cx="383.5" cy="787.5" rx="11.5" ry="12" fill="#000" opacity="0.05" filter="url(#b4)"/>
<ellipse cx="383.5" cy="759.5" rx="11" ry="10" fill="#000" opacity="0.04" filter="url(#b4)"/>
<ellipse cx="383.5" cy="853" rx="10.5" ry="4" fill="#000" opacity="0.18" filter="url(#b2)"/>
<ellipse cx="383.5" cy="845.8" rx="11.3" ry="4" fill="#000" opacity="0.3" filter="url(#b2)"/>
<ellipse cx="383.5" cy="860.4" rx="11.6" ry="4" fill="#000" opacity="0.68" filter="url(#b2)"/>
<ellipse cx="383.5" cy="860.4" rx="8" ry="2.4" fill="#000" opacity="0.41" filter="url(#b15)"/>
<rect x="404.4" y="735.2" width="22" height="146.1" fill="url(#gF2)" filter="url(#bx3)"/>
<ellipse cx="415.4" cy="752" rx="10.5" ry="16" fill="#000" opacity="0.04" filter="url(#b4)"/>
<ellipse cx="415.4" cy="772.8" rx="12.5" ry="8.5" fill="#000" opacity="0.42" filter="url(#b4)"/>
<ellipse cx="415.4" cy="771.3" rx="11" ry="3.6" fill="#000" opacity="0.18" filter="url(#b2)"/>
<ellipse cx="415.4" cy="784.8" rx="12" ry="12" fill="#000" opacity="0.17" filter="url(#b4)"/>
<ellipse cx="415.4" cy="756.8" rx="11.5" ry="10" fill="#000" opacity="0.13" filter="url(#b4)"/>
<ellipse cx="415.4" cy="853" rx="11" ry="4" fill="#000" opacity="0.18" filter="url(#b2)"/>
<ellipse cx="415.4" cy="845.8" rx="11.8" ry="4" fill="#000" opacity="0.3" filter="url(#b2)"/>
<ellipse cx="415.4" cy="860.4" rx="12.1" ry="4" fill="#000" opacity="0.68" filter="url(#b2)"/>
<ellipse cx="415.4" cy="860.4" rx="8.5" ry="2.4" fill="#000" opacity="0.41" filter="url(#b15)"/>
</g>
<rect x="267.9" y="735.2" width="168.6" height="146.1" fill="none" stroke="#000" stroke-width="1.8"/>
<clipPath id="clipF2"><rect x="456.7" y="735.2" width="169.3" height="146.1"/></clipPath>
<g clip-path="url(#clipF2)">
<rect x="456.7" y="735.2" width="169.3" height="146.1" fill="#ececec"/>
<rect x="471.5" y="846" width="21" height="36" fill="#000" opacity="0.07" filter="url(#bx3)"/>
<rect x="470.75" y="855.1" width="22.5" height="5" rx="2.5" fill="#222" opacity="0.25" filter="url(#b15)"/>
<rect x="471.25" y="855.6" width="4.5" height="4" rx="2" fill="#222" opacity="0.16" filter="url(#b15)"/>
<rect x="488.25" y="855.6" width="4.5" height="4" rx="2" fill="#222" opacity="0.16" filter="url(#b15)"/>
<rect x="504.25" y="773" width="18.5" height="109" fill="#000" opacity="0.1" filter="url(#bx3)"/>
<ellipse cx="512" cy="792" rx="8" ry="22" fill="#000" opacity="0.05" filter="url(#b4)"/>
<rect x="504.5" y="856.5" width="17" height="3" rx="1.5" fill="#000" opacity="0.1" filter="url(#b1)"/>
<rect x="533.55" y="754" width="19.5" height="128" fill="#000" opacity="0.07" filter="url(#bx3)"/>
<rect x="533.8" y="751.5" width="19" height="2.2" rx="1.1" fill="#222" opacity="0.34" filter="url(#b1)"/>
<rect x="534.8" y="856.5" width="17" height="3" rx="1.5" fill="#000" opacity="0.05" filter="url(#b1)"/>
<rect x="563.25" y="754" width="19.5" height="128" fill="#000" opacity="0.09" filter="url(#bx3)"/>
<rect x="563.5" y="751.5" width="19" height="2.2" rx="1.1" fill="#222" opacity="0.46" filter="url(#b1)"/>
<ellipse cx="571.5" cy="768" rx="8" ry="13" fill="#000" opacity="0.08" filter="url(#b4)"/>
<rect x="564.5" y="856.5" width="17" height="3" rx="1.5" fill="#000" opacity="0.05" filter="url(#b1)"/>
<rect x="593.55" y="754" width="19.5" height="128" fill="#000" opacity="0.07" filter="url(#bx3)"/>
<rect x="593.8" y="751.5" width="19" height="2.2" rx="1.1" fill="#222" opacity="0.26" filter="url(#b1)"/>
<rect x="594.8" y="856.5" width="17" height="3" rx="1.5" fill="#000" opacity="0.05" filter="url(#b1)"/>
<circle cx="528" cy="782.2" r="0.9" fill="#222" opacity="0.55" filter="url(#b05)"/>
<circle cx="558.3" cy="808" r="0.7" fill="#222" opacity="0.3" filter="url(#b05)"/>
<circle cx="477.8" cy="742" r="0.6" fill="#222" opacity="0.2" filter="url(#b05)"/>
<circle cx="548.5" cy="877" r="0.6" fill="#222" opacity="0.3" filter="url(#b05)"/>
</g>
<rect x="456.7" y="735.2" width="169.3" height="146.1" fill="none" stroke="#000" stroke-width="1.8"/>
<text x="165" y="730.36" font-size="12.3" text-anchor="middle" fill="#000" stroke="#000" stroke-width="0.3">AIF-WT</text>
<text x="350.6" y="730.36" font-size="12.3" text-anchor="middle" fill="#000" stroke="#000" stroke-width="0.3">p.R422Q</text>
<text x="542.6" y="730.36" font-size="12.3" text-anchor="middle" fill="#000" stroke="#000" stroke-width="0.3">p.423-435del</text>
<text x="18.6" y="776.86" font-size="12.3" text-anchor="start" fill="#000" stroke="#000" stroke-width="0.3">AIF dimer</text>
<text x="3.4" y="860.34" font-size="12.25" text-anchor="start" fill="#000" stroke="#000" stroke-width="0.29">AIF monomer</text>
<text x="9.8" y="899.46" font-size="12.3" text-anchor="start" fill="#000" stroke="#000" stroke-width="0.3">DSS (1 mM)</text>
<text x="9.8" y="916.06" font-size="12.3" text-anchor="start" fill="#000" stroke="#000" stroke-width="0.3">NADH (μM)</text>
<text x="631.4" y="778.34" font-size="9.5" text-anchor="start" fill="#000" stroke="#000" stroke-width="0.23">124 KD</text>
<text x="631.4" y="866.34" font-size="9.5" text-anchor="start" fill="#000" stroke="#000" stroke-width="0.23">62 KD</text>
<line x1="104.9" y1="894.6" x2="113.7" y2="894.6" stroke="#111" stroke-width="1.05"/>
<line x1="133.5" y1="894.6" x2="141.3" y2="894.6" stroke="#111" stroke-width="1.05"/>
<line x1="137.4" y1="890.7" x2="137.4" y2="898.5" stroke="#111" stroke-width="1.05"/>
<line x1="161.9" y1="894.6" x2="169.7" y2="894.6" stroke="#111" stroke-width="1.05"/>
<line x1="165.8" y1="890.7" x2="165.8" y2="898.5" stroke="#111" stroke-width="1.05"/>
<line x1="190.4" y1="894.6" x2="198.2" y2="894.6" stroke="#111" stroke-width="1.05"/>
<line x1="194.3" y1="890.7" x2="194.3" y2="898.5" stroke="#111" stroke-width="1.05"/>
<line x1="219.2" y1="894.6" x2="227" y2="894.6" stroke="#111" stroke-width="1.05"/>
<line x1="223.1" y1="890.7" x2="223.1" y2="898.5" stroke="#111" stroke-width="1.05"/>
<line x1="104.9" y1="912.6" x2="113.7" y2="912.6" stroke="#111" stroke-width="1.05"/>
<line x1="133" y1="912.6" x2="141.8" y2="912.6" stroke="#111" stroke-width="1.05"/>
<text x="165.8" y="916.16" font-size="12" text-anchor="middle" font-weight="bold" fill="#000" stroke="#000" stroke-width="0">5</text>
<text x="194.3" y="916.16" font-size="12" text-anchor="middle" font-weight="bold" fill="#000" stroke="#000" stroke-width="0">10</text>
<text x="223.1" y="916.16" font-size="12" text-anchor="middle" font-weight="bold" fill="#000" stroke="#000" stroke-width="0">20</text>
<line x1="284.7" y1="894.6" x2="293.5" y2="894.6" stroke="#111" stroke-width="1.05"/>
<line x1="315.2" y1="894.6" x2="323" y2="894.6" stroke="#111" stroke-width="1.05"/>
<line x1="319.1" y1="890.7" x2="319.1" y2="898.5" stroke="#111" stroke-width="1.05"/>
<line x1="346.3" y1="894.6" x2="354.1" y2="894.6" stroke="#111" stroke-width="1.05"/>
<line x1="350.2" y1="890.7" x2="350.2" y2="898.5" stroke="#111" stroke-width="1.05"/>
<line x1="378.2" y1="894.6" x2="386" y2="894.6" stroke="#111" stroke-width="1.05"/>
<line x1="382.1" y1="890.7" x2="382.1" y2="898.5" stroke="#111" stroke-width="1.05"/>
<line x1="410" y1="894.6" x2="417.8" y2="894.6" stroke="#111" stroke-width="1.05"/>
<line x1="413.9" y1="890.7" x2="413.9" y2="898.5" stroke="#111" stroke-width="1.05"/>
<line x1="284.7" y1="912.6" x2="293.5" y2="912.6" stroke="#111" stroke-width="1.05"/>
<line x1="314.7" y1="912.6" x2="323.5" y2="912.6" stroke="#111" stroke-width="1.05"/>
<text x="350.2" y="916.16" font-size="12" text-anchor="middle" font-weight="bold" fill="#000" stroke="#000" stroke-width="0">5</text>
<text x="382.1" y="916.16" font-size="12" text-anchor="middle" font-weight="bold" fill="#000" stroke="#000" stroke-width="0">10</text>
<text x="413.9" y="916.16" font-size="12" text-anchor="middle" font-weight="bold" fill="#000" stroke="#000" stroke-width="0">20</text>
<line x1="476" y1="894.6" x2="484.8" y2="894.6" stroke="#111" stroke-width="1.05"/>
<line x1="508" y1="894.6" x2="515.8" y2="894.6" stroke="#111" stroke-width="1.05"/>
<line x1="511.9" y1="890.7" x2="511.9" y2="898.5" stroke="#111" stroke-width="1.05"/>
<line x1="538" y1="894.6" x2="545.8" y2="894.6" stroke="#111" stroke-width="1.05"/>
<line x1="541.9" y1="890.7" x2="541.9" y2="898.5" stroke="#111" stroke-width="1.05"/>
<line x1="567.4" y1="894.6" x2="575.2" y2="894.6" stroke="#111" stroke-width="1.05"/>
<line x1="571.3" y1="890.7" x2="571.3" y2="898.5" stroke="#111" stroke-width="1.05"/>
<line x1="597" y1="894.6" x2="604.8" y2="894.6" stroke="#111" stroke-width="1.05"/>
<line x1="600.9" y1="890.7" x2="600.9" y2="898.5" stroke="#111" stroke-width="1.05"/>
<line x1="476" y1="912.6" x2="484.8" y2="912.6" stroke="#111" stroke-width="1.05"/>
<line x1="507.5" y1="912.6" x2="516.3" y2="912.6" stroke="#111" stroke-width="1.05"/>
<text x="541.9" y="916.16" font-size="12" text-anchor="middle" font-weight="bold" fill="#000" stroke="#000" stroke-width="0">5</text>
<text x="571.3" y="916.16" font-size="12" text-anchor="middle" font-weight="bold" fill="#000" stroke="#000" stroke-width="0">10</text>
<text x="600.9" y="916.16" font-size="12" text-anchor="middle" font-weight="bold" fill="#000" stroke="#000" stroke-width="0">20</text>
<g style="mix-blend-mode:multiply"><rect x="0" y="0" width="1" height="1" fill="#fff"/></g>
</svg>
</body></html>
